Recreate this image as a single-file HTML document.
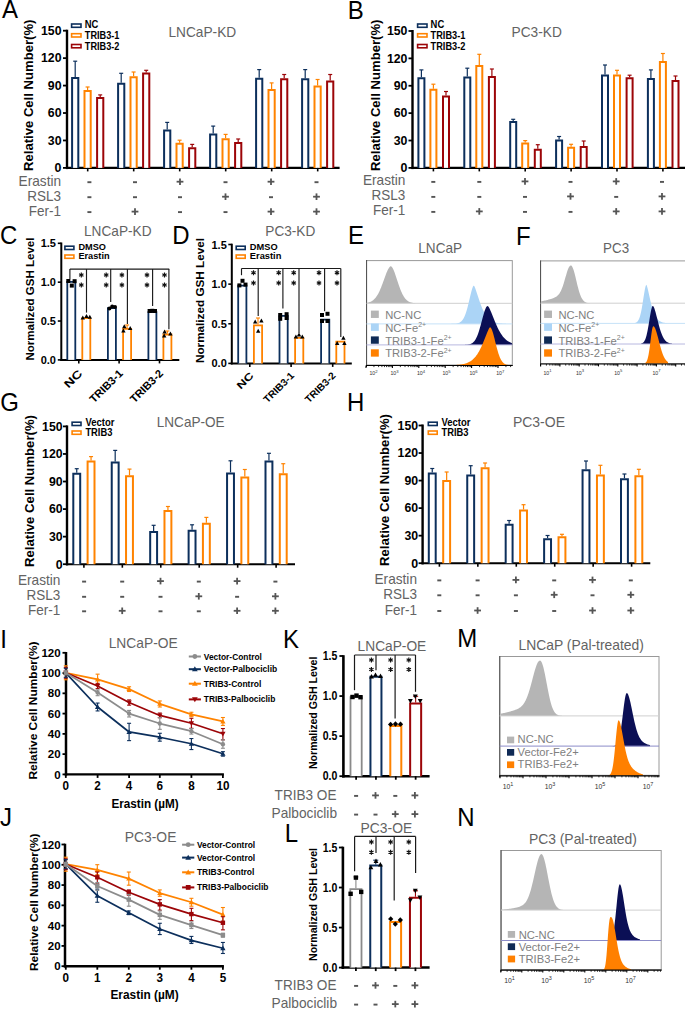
<!DOCTYPE html><html><head><meta charset="utf-8"><style>html,body{margin:0;padding:0;background:#fff;overflow:hidden}svg{display:block}text{font-family:"Liberation Sans",sans-serif}</style></head><body><svg width="685" height="1009" viewBox="0 0 685 1009" font-family="Liberation Sans, sans-serif">
<rect width="685" height="1009" fill="#fff"/>
<line x1="63.00" y1="167.90" x2="67.00" y2="167.90" stroke="#000" stroke-width="1.8"/>
<text x="61.50" y="172.20" font-size="12" font-weight="bold" fill="#000" text-anchor="end" textLength="6.9" lengthAdjust="spacingAndGlyphs">0</text>
<line x1="63.00" y1="140.46" x2="67.00" y2="140.46" stroke="#000" stroke-width="1.8"/>
<text x="61.50" y="144.76" font-size="12" font-weight="bold" fill="#000" text-anchor="end" textLength="13.7" lengthAdjust="spacingAndGlyphs">30</text>
<line x1="63.00" y1="113.02" x2="67.00" y2="113.02" stroke="#000" stroke-width="1.8"/>
<text x="61.50" y="117.32" font-size="12" font-weight="bold" fill="#000" text-anchor="end" textLength="13.7" lengthAdjust="spacingAndGlyphs">60</text>
<line x1="63.00" y1="85.58" x2="67.00" y2="85.58" stroke="#000" stroke-width="1.8"/>
<text x="61.50" y="89.88" font-size="12" font-weight="bold" fill="#000" text-anchor="end" textLength="13.7" lengthAdjust="spacingAndGlyphs">90</text>
<line x1="63.00" y1="58.14" x2="67.00" y2="58.14" stroke="#000" stroke-width="1.8"/>
<text x="61.50" y="62.44" font-size="12" font-weight="bold" fill="#000" text-anchor="end" textLength="20.5" lengthAdjust="spacingAndGlyphs">120</text>
<line x1="63.00" y1="30.70" x2="67.00" y2="30.70" stroke="#000" stroke-width="1.8"/>
<text x="61.50" y="35.00" font-size="12" font-weight="bold" fill="#000" text-anchor="end" textLength="20.5" lengthAdjust="spacingAndGlyphs">150</text>
<line x1="67.00" y1="29.70" x2="67.00" y2="169.10" stroke="#000" stroke-width="2.4"/>
<line x1="66.00" y1="167.90" x2="339.60" y2="167.90" stroke="#000" stroke-width="2.1"/>
<text transform="translate(33.00,171.00) rotate(-90)" x="0" y="0" font-size="12" font-weight="bold" fill="#000" textLength="151.4" lengthAdjust="spacingAndGlyphs">Relative Cell Number(%)</text>
<rect x="71.60" y="24.00" width="9.40" height="3.30" fill="none" stroke="#0c2f5c" stroke-width="1.6"/>
<text x="84.80" y="27.90" font-size="10.2" font-weight="bold" fill="#000" textLength="13.6" lengthAdjust="spacingAndGlyphs">NC</text>
<rect x="71.60" y="33.70" width="9.40" height="3.30" fill="none" stroke="#ff8300" stroke-width="1.6"/>
<text x="84.80" y="38.70" font-size="10.2" font-weight="bold" fill="#000" textLength="34.6" lengthAdjust="spacingAndGlyphs">TRIB3-1</text>
<rect x="71.60" y="44.50" width="9.40" height="3.30" fill="none" stroke="#9c0508" stroke-width="1.6"/>
<text x="84.80" y="49.80" font-size="10.2" font-weight="bold" fill="#000" textLength="34.6" lengthAdjust="spacingAndGlyphs">TRIB3-2</text>
<path d="M72.10,167.90V78.00H78.30V167.90" fill="#fff" stroke="#0c2f5c" stroke-width="2"/>
<line x1="75.20" y1="77.00" x2="75.20" y2="61.20" stroke="#0c2f5c" stroke-width="1.2"/>
<line x1="73.20" y1="61.20" x2="77.20" y2="61.20" stroke="#0c2f5c" stroke-width="1.2"/>
<path d="M84.50,167.90V90.90H90.70V167.90" fill="#fff" stroke="#ff8300" stroke-width="2"/>
<line x1="87.60" y1="89.90" x2="87.60" y2="87.00" stroke="#ff8300" stroke-width="1.2"/>
<line x1="85.60" y1="87.00" x2="89.60" y2="87.00" stroke="#ff8300" stroke-width="1.2"/>
<path d="M97.10,167.90V98.00H103.30V167.90" fill="#fff" stroke="#9c0508" stroke-width="2"/>
<line x1="100.20" y1="97.00" x2="100.20" y2="94.90" stroke="#9c0508" stroke-width="1.2"/>
<line x1="98.20" y1="94.90" x2="102.20" y2="94.90" stroke="#9c0508" stroke-width="1.2"/>
<line x1="87.70" y1="167.90" x2="87.70" y2="171.40" stroke="#000" stroke-width="1.6"/>
<path d="M118.10,167.90V83.80H124.30V167.90" fill="#fff" stroke="#0c2f5c" stroke-width="2"/>
<line x1="121.20" y1="82.80" x2="121.20" y2="73.30" stroke="#0c2f5c" stroke-width="1.2"/>
<line x1="119.20" y1="73.30" x2="123.20" y2="73.30" stroke="#0c2f5c" stroke-width="1.2"/>
<path d="M130.50,167.90V77.20H136.70V167.90" fill="#fff" stroke="#ff8300" stroke-width="2"/>
<line x1="133.60" y1="76.20" x2="133.60" y2="72.00" stroke="#ff8300" stroke-width="1.2"/>
<line x1="131.60" y1="72.00" x2="135.60" y2="72.00" stroke="#ff8300" stroke-width="1.2"/>
<path d="M143.10,167.90V73.40H149.30V167.90" fill="#fff" stroke="#9c0508" stroke-width="2"/>
<line x1="146.20" y1="72.40" x2="146.20" y2="70.30" stroke="#9c0508" stroke-width="1.2"/>
<line x1="144.20" y1="70.30" x2="148.20" y2="70.30" stroke="#9c0508" stroke-width="1.2"/>
<line x1="133.70" y1="167.90" x2="133.70" y2="171.40" stroke="#000" stroke-width="1.6"/>
<path d="M164.10,167.90V130.40H170.30V167.90" fill="#fff" stroke="#0c2f5c" stroke-width="2"/>
<line x1="167.20" y1="129.40" x2="167.20" y2="122.40" stroke="#0c2f5c" stroke-width="1.2"/>
<line x1="165.20" y1="122.40" x2="169.20" y2="122.40" stroke="#0c2f5c" stroke-width="1.2"/>
<path d="M176.50,167.90V143.70H182.70V167.90" fill="#fff" stroke="#ff8300" stroke-width="2"/>
<line x1="179.60" y1="142.70" x2="179.60" y2="140.20" stroke="#ff8300" stroke-width="1.2"/>
<line x1="177.60" y1="140.20" x2="181.60" y2="140.20" stroke="#ff8300" stroke-width="1.2"/>
<path d="M189.10,167.90V148.30H195.30V167.90" fill="#fff" stroke="#9c0508" stroke-width="2"/>
<line x1="192.20" y1="147.30" x2="192.20" y2="144.40" stroke="#9c0508" stroke-width="1.2"/>
<line x1="190.20" y1="144.40" x2="194.20" y2="144.40" stroke="#9c0508" stroke-width="1.2"/>
<line x1="179.70" y1="167.90" x2="179.70" y2="171.40" stroke="#000" stroke-width="1.6"/>
<path d="M210.10,167.90V134.60H216.30V167.90" fill="#fff" stroke="#0c2f5c" stroke-width="2"/>
<line x1="213.20" y1="133.60" x2="213.20" y2="126.10" stroke="#0c2f5c" stroke-width="1.2"/>
<line x1="211.20" y1="126.10" x2="215.20" y2="126.10" stroke="#0c2f5c" stroke-width="1.2"/>
<path d="M222.50,167.90V139.20H228.70V167.90" fill="#fff" stroke="#ff8300" stroke-width="2"/>
<line x1="225.60" y1="138.20" x2="225.60" y2="134.40" stroke="#ff8300" stroke-width="1.2"/>
<line x1="223.60" y1="134.40" x2="227.60" y2="134.40" stroke="#ff8300" stroke-width="1.2"/>
<path d="M235.10,167.90V142.90H241.30V167.90" fill="#fff" stroke="#9c0508" stroke-width="2"/>
<line x1="238.20" y1="141.90" x2="238.20" y2="139.00" stroke="#9c0508" stroke-width="1.2"/>
<line x1="236.20" y1="139.00" x2="240.20" y2="139.00" stroke="#9c0508" stroke-width="1.2"/>
<line x1="225.70" y1="167.90" x2="225.70" y2="171.40" stroke="#000" stroke-width="1.6"/>
<path d="M256.10,167.90V78.70H262.30V167.90" fill="#fff" stroke="#0c2f5c" stroke-width="2"/>
<line x1="259.20" y1="77.70" x2="259.20" y2="69.60" stroke="#0c2f5c" stroke-width="1.2"/>
<line x1="257.20" y1="69.60" x2="261.20" y2="69.60" stroke="#0c2f5c" stroke-width="1.2"/>
<path d="M268.50,167.90V90.00H274.70V167.90" fill="#fff" stroke="#ff8300" stroke-width="2"/>
<line x1="271.60" y1="89.00" x2="271.60" y2="82.90" stroke="#ff8300" stroke-width="1.2"/>
<line x1="269.60" y1="82.90" x2="273.60" y2="82.90" stroke="#ff8300" stroke-width="1.2"/>
<path d="M281.10,167.90V79.30H287.30V167.90" fill="#fff" stroke="#9c0508" stroke-width="2"/>
<line x1="284.20" y1="78.30" x2="284.20" y2="74.50" stroke="#9c0508" stroke-width="1.2"/>
<line x1="282.20" y1="74.50" x2="286.20" y2="74.50" stroke="#9c0508" stroke-width="1.2"/>
<line x1="271.70" y1="167.90" x2="271.70" y2="171.40" stroke="#000" stroke-width="1.6"/>
<path d="M302.10,167.90V79.30H308.30V167.90" fill="#fff" stroke="#0c2f5c" stroke-width="2"/>
<line x1="305.20" y1="78.30" x2="305.20" y2="69.60" stroke="#0c2f5c" stroke-width="1.2"/>
<line x1="303.20" y1="69.60" x2="307.20" y2="69.60" stroke="#0c2f5c" stroke-width="1.2"/>
<path d="M314.50,167.90V86.40H320.70V167.90" fill="#fff" stroke="#ff8300" stroke-width="2"/>
<line x1="317.60" y1="85.40" x2="317.60" y2="79.50" stroke="#ff8300" stroke-width="1.2"/>
<line x1="315.60" y1="79.50" x2="319.60" y2="79.50" stroke="#ff8300" stroke-width="1.2"/>
<path d="M327.10,167.90V81.60H333.30V167.90" fill="#fff" stroke="#9c0508" stroke-width="2"/>
<line x1="330.20" y1="80.60" x2="330.20" y2="74.50" stroke="#9c0508" stroke-width="1.2"/>
<line x1="328.20" y1="74.50" x2="332.20" y2="74.50" stroke="#9c0508" stroke-width="1.2"/>
<line x1="317.70" y1="167.90" x2="317.70" y2="171.40" stroke="#000" stroke-width="1.6"/>
<text x="168.40" y="36.90" font-size="14.6" fill="#636363" textLength="67.8" lengthAdjust="spacingAndGlyphs">LNCaP-KD</text>
<text x="61.10" y="185.70" font-size="14.5" fill="#636363" text-anchor="end" textLength="42.5" lengthAdjust="spacingAndGlyphs">Erastin</text>
<line x1="87.40" y1="182.20" x2="91.40" y2="182.20" stroke="#555555" stroke-width="1.9"/>
<line x1="133.00" y1="182.20" x2="137.00" y2="182.20" stroke="#555555" stroke-width="1.9"/>
<line x1="176.60" y1="181.70" x2="183.40" y2="181.70" stroke="#555555" stroke-width="1.8"/>
<line x1="180.00" y1="178.40" x2="180.00" y2="185.00" stroke="#555555" stroke-width="1.8"/>
<line x1="223.50" y1="182.20" x2="227.50" y2="182.20" stroke="#555555" stroke-width="1.9"/>
<line x1="267.60" y1="181.70" x2="274.40" y2="181.70" stroke="#555555" stroke-width="1.8"/>
<line x1="271.00" y1="178.40" x2="271.00" y2="185.00" stroke="#555555" stroke-width="1.8"/>
<line x1="314.50" y1="182.20" x2="318.50" y2="182.20" stroke="#555555" stroke-width="1.9"/>
<text x="61.10" y="200.70" font-size="14.5" fill="#636363" text-anchor="end" textLength="33.8" lengthAdjust="spacingAndGlyphs">RSL3</text>
<line x1="87.40" y1="197.20" x2="91.40" y2="197.20" stroke="#555555" stroke-width="1.9"/>
<line x1="133.00" y1="197.20" x2="137.00" y2="197.20" stroke="#555555" stroke-width="1.9"/>
<line x1="178.00" y1="197.20" x2="182.00" y2="197.20" stroke="#555555" stroke-width="1.9"/>
<line x1="222.10" y1="196.70" x2="228.90" y2="196.70" stroke="#555555" stroke-width="1.8"/>
<line x1="225.50" y1="193.40" x2="225.50" y2="200.00" stroke="#555555" stroke-width="1.8"/>
<line x1="269.00" y1="197.20" x2="273.00" y2="197.20" stroke="#555555" stroke-width="1.9"/>
<line x1="313.10" y1="196.70" x2="319.90" y2="196.70" stroke="#555555" stroke-width="1.8"/>
<line x1="316.50" y1="193.40" x2="316.50" y2="200.00" stroke="#555555" stroke-width="1.8"/>
<text x="61.10" y="215.60" font-size="14.5" fill="#636363" text-anchor="end" textLength="32.3" lengthAdjust="spacingAndGlyphs">Fer-1</text>
<line x1="87.40" y1="212.10" x2="91.40" y2="212.10" stroke="#555555" stroke-width="1.9"/>
<line x1="131.60" y1="211.60" x2="138.40" y2="211.60" stroke="#555555" stroke-width="1.8"/>
<line x1="135.00" y1="208.30" x2="135.00" y2="214.90" stroke="#555555" stroke-width="1.8"/>
<line x1="178.00" y1="212.10" x2="182.00" y2="212.10" stroke="#555555" stroke-width="1.9"/>
<line x1="223.50" y1="212.10" x2="227.50" y2="212.10" stroke="#555555" stroke-width="1.9"/>
<line x1="267.60" y1="211.60" x2="274.40" y2="211.60" stroke="#555555" stroke-width="1.8"/>
<line x1="271.00" y1="208.30" x2="271.00" y2="214.90" stroke="#555555" stroke-width="1.8"/>
<line x1="313.10" y1="211.60" x2="319.90" y2="211.60" stroke="#555555" stroke-width="1.8"/>
<line x1="316.50" y1="208.30" x2="316.50" y2="214.90" stroke="#555555" stroke-width="1.8"/>
<line x1="408.50" y1="167.90" x2="412.50" y2="167.90" stroke="#000" stroke-width="1.8"/>
<text x="407.40" y="172.20" font-size="12" font-weight="bold" fill="#000" text-anchor="end" textLength="6.9" lengthAdjust="spacingAndGlyphs">0</text>
<line x1="408.50" y1="140.52" x2="412.50" y2="140.52" stroke="#000" stroke-width="1.8"/>
<text x="407.40" y="144.82" font-size="12" font-weight="bold" fill="#000" text-anchor="end" textLength="13.7" lengthAdjust="spacingAndGlyphs">30</text>
<line x1="408.50" y1="113.14" x2="412.50" y2="113.14" stroke="#000" stroke-width="1.8"/>
<text x="407.40" y="117.44" font-size="12" font-weight="bold" fill="#000" text-anchor="end" textLength="13.7" lengthAdjust="spacingAndGlyphs">60</text>
<line x1="408.50" y1="85.76" x2="412.50" y2="85.76" stroke="#000" stroke-width="1.8"/>
<text x="407.40" y="90.06" font-size="12" font-weight="bold" fill="#000" text-anchor="end" textLength="13.7" lengthAdjust="spacingAndGlyphs">90</text>
<line x1="408.50" y1="58.38" x2="412.50" y2="58.38" stroke="#000" stroke-width="1.8"/>
<text x="407.40" y="62.68" font-size="12" font-weight="bold" fill="#000" text-anchor="end" textLength="20.5" lengthAdjust="spacingAndGlyphs">120</text>
<line x1="408.50" y1="31.00" x2="412.50" y2="31.00" stroke="#000" stroke-width="1.8"/>
<text x="407.40" y="35.30" font-size="12" font-weight="bold" fill="#000" text-anchor="end" textLength="20.5" lengthAdjust="spacingAndGlyphs">150</text>
<line x1="412.50" y1="30.00" x2="412.50" y2="169.10" stroke="#000" stroke-width="2.4"/>
<line x1="411.50" y1="167.90" x2="686.00" y2="167.90" stroke="#000" stroke-width="2.1"/>
<text transform="translate(380.00,171.00) rotate(-90)" x="0" y="0" font-size="12" font-weight="bold" fill="#000" textLength="151.4" lengthAdjust="spacingAndGlyphs">Relative Cell Number(%)</text>
<rect x="417.60" y="24.00" width="9.40" height="3.30" fill="none" stroke="#0c2f5c" stroke-width="1.6"/>
<text x="430.60" y="27.90" font-size="10.2" font-weight="bold" fill="#000" textLength="13.6" lengthAdjust="spacingAndGlyphs">NC</text>
<rect x="417.60" y="33.70" width="9.40" height="3.30" fill="none" stroke="#ff8300" stroke-width="1.6"/>
<text x="430.60" y="38.70" font-size="10.2" font-weight="bold" fill="#000" textLength="34.8" lengthAdjust="spacingAndGlyphs">TRIB3-1</text>
<rect x="417.60" y="44.50" width="9.40" height="3.30" fill="none" stroke="#9c0508" stroke-width="1.6"/>
<text x="430.60" y="49.80" font-size="10.2" font-weight="bold" fill="#000" textLength="34.8" lengthAdjust="spacingAndGlyphs">TRIB3-2</text>
<path d="M418.40,167.90V78.20H424.40V167.90" fill="#fff" stroke="#0c2f5c" stroke-width="2"/>
<line x1="421.40" y1="77.20" x2="421.40" y2="69.90" stroke="#0c2f5c" stroke-width="1.2"/>
<line x1="419.40" y1="69.90" x2="423.40" y2="69.90" stroke="#0c2f5c" stroke-width="1.2"/>
<path d="M430.40,167.90V89.70H436.40V167.90" fill="#fff" stroke="#ff8300" stroke-width="2"/>
<line x1="433.40" y1="88.70" x2="433.40" y2="84.20" stroke="#ff8300" stroke-width="1.2"/>
<line x1="431.40" y1="84.20" x2="435.40" y2="84.20" stroke="#ff8300" stroke-width="1.2"/>
<path d="M443.00,167.90V96.60H449.00V167.90" fill="#fff" stroke="#9c0508" stroke-width="2"/>
<line x1="446.00" y1="95.60" x2="446.00" y2="91.50" stroke="#9c0508" stroke-width="1.2"/>
<line x1="444.00" y1="91.50" x2="448.00" y2="91.50" stroke="#9c0508" stroke-width="1.2"/>
<line x1="433.40" y1="167.90" x2="433.40" y2="171.40" stroke="#000" stroke-width="1.6"/>
<path d="M464.30,167.90V77.40H470.30V167.90" fill="#fff" stroke="#0c2f5c" stroke-width="2"/>
<line x1="467.30" y1="76.40" x2="467.30" y2="68.20" stroke="#0c2f5c" stroke-width="1.2"/>
<line x1="465.30" y1="68.20" x2="469.30" y2="68.20" stroke="#0c2f5c" stroke-width="1.2"/>
<path d="M476.30,167.90V66.00H482.30V167.90" fill="#fff" stroke="#ff8300" stroke-width="2"/>
<line x1="479.30" y1="65.00" x2="479.30" y2="54.30" stroke="#ff8300" stroke-width="1.2"/>
<line x1="477.30" y1="54.30" x2="481.30" y2="54.30" stroke="#ff8300" stroke-width="1.2"/>
<path d="M488.90,167.90V77.00H494.90V167.90" fill="#fff" stroke="#9c0508" stroke-width="2"/>
<line x1="491.90" y1="76.00" x2="491.90" y2="69.00" stroke="#9c0508" stroke-width="1.2"/>
<line x1="489.90" y1="69.00" x2="493.90" y2="69.00" stroke="#9c0508" stroke-width="1.2"/>
<line x1="479.30" y1="167.90" x2="479.30" y2="171.40" stroke="#000" stroke-width="1.6"/>
<path d="M510.20,167.90V122.00H516.20V167.90" fill="#fff" stroke="#0c2f5c" stroke-width="2"/>
<line x1="513.20" y1="121.00" x2="513.20" y2="119.30" stroke="#0c2f5c" stroke-width="1.2"/>
<line x1="511.20" y1="119.30" x2="515.20" y2="119.30" stroke="#0c2f5c" stroke-width="1.2"/>
<path d="M522.20,167.90V143.60H528.20V167.90" fill="#fff" stroke="#ff8300" stroke-width="2"/>
<line x1="525.20" y1="142.60" x2="525.20" y2="140.60" stroke="#ff8300" stroke-width="1.2"/>
<line x1="523.20" y1="140.60" x2="527.20" y2="140.60" stroke="#ff8300" stroke-width="1.2"/>
<path d="M534.80,167.90V149.80H540.80V167.90" fill="#fff" stroke="#9c0508" stroke-width="2"/>
<line x1="537.80" y1="148.80" x2="537.80" y2="144.70" stroke="#9c0508" stroke-width="1.2"/>
<line x1="535.80" y1="144.70" x2="539.80" y2="144.70" stroke="#9c0508" stroke-width="1.2"/>
<line x1="525.20" y1="167.90" x2="525.20" y2="171.40" stroke="#000" stroke-width="1.6"/>
<path d="M556.10,167.90V140.40H562.10V167.90" fill="#fff" stroke="#0c2f5c" stroke-width="2"/>
<line x1="559.10" y1="139.40" x2="559.10" y2="136.50" stroke="#0c2f5c" stroke-width="1.2"/>
<line x1="557.10" y1="136.50" x2="561.10" y2="136.50" stroke="#0c2f5c" stroke-width="1.2"/>
<path d="M568.10,167.90V147.70H574.10V167.90" fill="#fff" stroke="#ff8300" stroke-width="2"/>
<line x1="571.10" y1="146.70" x2="571.10" y2="144.30" stroke="#ff8300" stroke-width="1.2"/>
<line x1="569.10" y1="144.30" x2="573.10" y2="144.30" stroke="#ff8300" stroke-width="1.2"/>
<path d="M580.70,167.90V146.90H586.70V167.90" fill="#fff" stroke="#9c0508" stroke-width="2"/>
<line x1="583.70" y1="145.90" x2="583.70" y2="141.00" stroke="#9c0508" stroke-width="1.2"/>
<line x1="581.70" y1="141.00" x2="585.70" y2="141.00" stroke="#9c0508" stroke-width="1.2"/>
<line x1="571.10" y1="167.90" x2="571.10" y2="171.40" stroke="#000" stroke-width="1.6"/>
<path d="M602.00,167.90V75.40H608.00V167.90" fill="#fff" stroke="#0c2f5c" stroke-width="2"/>
<line x1="605.00" y1="74.40" x2="605.00" y2="65.00" stroke="#0c2f5c" stroke-width="1.2"/>
<line x1="603.00" y1="65.00" x2="607.00" y2="65.00" stroke="#0c2f5c" stroke-width="1.2"/>
<path d="M614.00,167.90V75.40H620.00V167.90" fill="#fff" stroke="#ff8300" stroke-width="2"/>
<line x1="617.00" y1="74.40" x2="617.00" y2="70.30" stroke="#ff8300" stroke-width="1.2"/>
<line x1="615.00" y1="70.30" x2="619.00" y2="70.30" stroke="#ff8300" stroke-width="1.2"/>
<path d="M626.60,167.90V78.20H632.60V167.90" fill="#fff" stroke="#9c0508" stroke-width="2"/>
<line x1="629.60" y1="77.20" x2="629.60" y2="75.20" stroke="#9c0508" stroke-width="1.2"/>
<line x1="627.60" y1="75.20" x2="631.60" y2="75.20" stroke="#9c0508" stroke-width="1.2"/>
<line x1="617.00" y1="167.90" x2="617.00" y2="171.40" stroke="#000" stroke-width="1.6"/>
<path d="M647.90,167.90V79.00H653.90V167.90" fill="#fff" stroke="#0c2f5c" stroke-width="2"/>
<line x1="650.90" y1="78.00" x2="650.90" y2="69.90" stroke="#0c2f5c" stroke-width="1.2"/>
<line x1="648.90" y1="69.90" x2="652.90" y2="69.90" stroke="#0c2f5c" stroke-width="1.2"/>
<path d="M659.90,167.90V61.90H665.90V167.90" fill="#fff" stroke="#ff8300" stroke-width="2"/>
<line x1="662.90" y1="60.90" x2="662.90" y2="53.50" stroke="#ff8300" stroke-width="1.2"/>
<line x1="660.90" y1="53.50" x2="664.90" y2="53.50" stroke="#ff8300" stroke-width="1.2"/>
<path d="M672.50,167.90V81.10H678.50V167.90" fill="#fff" stroke="#9c0508" stroke-width="2"/>
<line x1="675.50" y1="80.10" x2="675.50" y2="76.00" stroke="#9c0508" stroke-width="1.2"/>
<line x1="673.50" y1="76.00" x2="677.50" y2="76.00" stroke="#9c0508" stroke-width="1.2"/>
<line x1="662.90" y1="167.90" x2="662.90" y2="171.40" stroke="#000" stroke-width="1.6"/>
<text x="511.50" y="36.90" font-size="14.6" fill="#636363" textLength="50.3" lengthAdjust="spacingAndGlyphs">PC3-KD</text>
<text x="405.40" y="185.40" font-size="14.5" fill="#636363" text-anchor="end" textLength="42.5" lengthAdjust="spacingAndGlyphs">Erastin</text>
<line x1="431.30" y1="181.90" x2="435.30" y2="181.90" stroke="#555555" stroke-width="1.9"/>
<line x1="477.30" y1="181.90" x2="481.30" y2="181.90" stroke="#555555" stroke-width="1.9"/>
<line x1="521.60" y1="181.40" x2="528.40" y2="181.40" stroke="#555555" stroke-width="1.8"/>
<line x1="525.00" y1="178.10" x2="525.00" y2="184.70" stroke="#555555" stroke-width="1.8"/>
<line x1="568.50" y1="181.90" x2="572.50" y2="181.90" stroke="#555555" stroke-width="1.9"/>
<line x1="612.80" y1="181.40" x2="619.60" y2="181.40" stroke="#555555" stroke-width="1.8"/>
<line x1="616.20" y1="178.10" x2="616.20" y2="184.70" stroke="#555555" stroke-width="1.8"/>
<line x1="660.00" y1="181.90" x2="664.00" y2="181.90" stroke="#555555" stroke-width="1.9"/>
<text x="405.40" y="200.40" font-size="14.5" fill="#636363" text-anchor="end" textLength="33.8" lengthAdjust="spacingAndGlyphs">RSL3</text>
<line x1="431.30" y1="196.90" x2="435.30" y2="196.90" stroke="#555555" stroke-width="1.9"/>
<line x1="477.30" y1="196.90" x2="481.30" y2="196.90" stroke="#555555" stroke-width="1.9"/>
<line x1="523.00" y1="196.90" x2="527.00" y2="196.90" stroke="#555555" stroke-width="1.9"/>
<line x1="567.10" y1="196.40" x2="573.90" y2="196.40" stroke="#555555" stroke-width="1.8"/>
<line x1="570.50" y1="193.10" x2="570.50" y2="199.70" stroke="#555555" stroke-width="1.8"/>
<line x1="614.20" y1="196.90" x2="618.20" y2="196.90" stroke="#555555" stroke-width="1.9"/>
<line x1="658.60" y1="196.40" x2="665.40" y2="196.40" stroke="#555555" stroke-width="1.8"/>
<line x1="662.00" y1="193.10" x2="662.00" y2="199.70" stroke="#555555" stroke-width="1.8"/>
<text x="405.40" y="215.40" font-size="14.5" fill="#636363" text-anchor="end" textLength="32.3" lengthAdjust="spacingAndGlyphs">Fer-1</text>
<line x1="431.30" y1="211.90" x2="435.30" y2="211.90" stroke="#555555" stroke-width="1.9"/>
<line x1="475.90" y1="211.40" x2="482.70" y2="211.40" stroke="#555555" stroke-width="1.8"/>
<line x1="479.30" y1="208.10" x2="479.30" y2="214.70" stroke="#555555" stroke-width="1.8"/>
<line x1="523.00" y1="211.90" x2="527.00" y2="211.90" stroke="#555555" stroke-width="1.9"/>
<line x1="568.50" y1="211.90" x2="572.50" y2="211.90" stroke="#555555" stroke-width="1.9"/>
<line x1="612.80" y1="211.40" x2="619.60" y2="211.40" stroke="#555555" stroke-width="1.8"/>
<line x1="616.20" y1="208.10" x2="616.20" y2="214.70" stroke="#555555" stroke-width="1.8"/>
<line x1="658.60" y1="211.40" x2="665.40" y2="211.40" stroke="#555555" stroke-width="1.8"/>
<line x1="662.00" y1="208.10" x2="662.00" y2="214.70" stroke="#555555" stroke-width="1.8"/>
<line x1="63.00" y1="564.20" x2="67.00" y2="564.20" stroke="#000" stroke-width="1.8"/>
<text x="62.60" y="568.50" font-size="12" font-weight="bold" fill="#000" text-anchor="end" textLength="6.9" lengthAdjust="spacingAndGlyphs">0</text>
<line x1="63.00" y1="536.64" x2="67.00" y2="536.64" stroke="#000" stroke-width="1.8"/>
<text x="62.60" y="540.94" font-size="12" font-weight="bold" fill="#000" text-anchor="end" textLength="13.7" lengthAdjust="spacingAndGlyphs">30</text>
<line x1="63.00" y1="509.08" x2="67.00" y2="509.08" stroke="#000" stroke-width="1.8"/>
<text x="62.60" y="513.38" font-size="12" font-weight="bold" fill="#000" text-anchor="end" textLength="13.7" lengthAdjust="spacingAndGlyphs">60</text>
<line x1="63.00" y1="481.52" x2="67.00" y2="481.52" stroke="#000" stroke-width="1.8"/>
<text x="62.60" y="485.82" font-size="12" font-weight="bold" fill="#000" text-anchor="end" textLength="13.7" lengthAdjust="spacingAndGlyphs">90</text>
<line x1="63.00" y1="453.96" x2="67.00" y2="453.96" stroke="#000" stroke-width="1.8"/>
<text x="62.60" y="458.26" font-size="12" font-weight="bold" fill="#000" text-anchor="end" textLength="20.5" lengthAdjust="spacingAndGlyphs">120</text>
<line x1="63.00" y1="426.40" x2="67.00" y2="426.40" stroke="#000" stroke-width="1.8"/>
<text x="62.60" y="430.70" font-size="12" font-weight="bold" fill="#000" text-anchor="end" textLength="20.5" lengthAdjust="spacingAndGlyphs">150</text>
<line x1="67.00" y1="425.40" x2="67.00" y2="565.40" stroke="#000" stroke-width="2.4"/>
<line x1="66.00" y1="564.20" x2="295.00" y2="564.20" stroke="#000" stroke-width="2.1"/>
<text transform="translate(34.20,567.00) rotate(-90)" x="0" y="0" font-size="12" font-weight="bold" fill="#000" textLength="152.0" lengthAdjust="spacingAndGlyphs">Relative Cell Number(%)</text>
<rect x="72.10" y="422.20" width="8.90" height="3.30" fill="none" stroke="#0c2f5c" stroke-width="1.6"/>
<text x="85.40" y="425.70" font-size="10.4" font-weight="bold" fill="#000" textLength="29.0" lengthAdjust="spacingAndGlyphs">Vector</text>
<rect x="72.10" y="431.00" width="8.90" height="3.30" fill="none" stroke="#ff8300" stroke-width="1.6"/>
<text x="85.40" y="435.70" font-size="10.4" font-weight="bold" fill="#000" textLength="27.0" lengthAdjust="spacingAndGlyphs">TRIB3</text>
<path d="M73.30,564.20V473.80H80.20V564.20" fill="#fff" stroke="#0c2f5c" stroke-width="2"/>
<line x1="76.75" y1="472.80" x2="76.75" y2="468.70" stroke="#0c2f5c" stroke-width="1.2"/>
<line x1="74.75" y1="468.70" x2="78.75" y2="468.70" stroke="#0c2f5c" stroke-width="1.2"/>
<path d="M87.60,564.20V461.40H94.50V564.20" fill="#fff" stroke="#ff8300" stroke-width="2"/>
<line x1="91.05" y1="460.40" x2="91.05" y2="456.60" stroke="#ff8300" stroke-width="1.2"/>
<line x1="89.05" y1="456.60" x2="93.05" y2="456.60" stroke="#ff8300" stroke-width="1.2"/>
<line x1="83.90" y1="564.20" x2="83.90" y2="567.70" stroke="#000" stroke-width="1.6"/>
<path d="M111.74,564.20V462.60H118.64V564.20" fill="#fff" stroke="#0c2f5c" stroke-width="2"/>
<line x1="115.19" y1="461.60" x2="115.19" y2="450.40" stroke="#0c2f5c" stroke-width="1.2"/>
<line x1="113.19" y1="450.40" x2="117.19" y2="450.40" stroke="#0c2f5c" stroke-width="1.2"/>
<path d="M126.04,564.20V476.30H132.94V564.20" fill="#fff" stroke="#ff8300" stroke-width="2"/>
<line x1="129.49" y1="475.30" x2="129.49" y2="469.10" stroke="#ff8300" stroke-width="1.2"/>
<line x1="127.49" y1="469.10" x2="131.49" y2="469.10" stroke="#ff8300" stroke-width="1.2"/>
<line x1="122.34" y1="564.20" x2="122.34" y2="567.70" stroke="#000" stroke-width="1.6"/>
<path d="M150.18,564.20V532.10H157.08V564.20" fill="#fff" stroke="#0c2f5c" stroke-width="2"/>
<line x1="153.63" y1="531.10" x2="153.63" y2="525.30" stroke="#0c2f5c" stroke-width="1.2"/>
<line x1="151.63" y1="525.30" x2="155.63" y2="525.30" stroke="#0c2f5c" stroke-width="1.2"/>
<path d="M164.48,564.20V510.90H171.38V564.20" fill="#fff" stroke="#ff8300" stroke-width="2"/>
<line x1="167.93" y1="509.90" x2="167.93" y2="506.50" stroke="#ff8300" stroke-width="1.2"/>
<line x1="165.93" y1="506.50" x2="169.93" y2="506.50" stroke="#ff8300" stroke-width="1.2"/>
<line x1="160.78" y1="564.20" x2="160.78" y2="567.70" stroke="#000" stroke-width="1.6"/>
<path d="M188.62,564.20V530.80H195.52V564.20" fill="#fff" stroke="#0c2f5c" stroke-width="2"/>
<line x1="192.07" y1="529.80" x2="192.07" y2="524.80" stroke="#0c2f5c" stroke-width="1.2"/>
<line x1="190.07" y1="524.80" x2="194.07" y2="524.80" stroke="#0c2f5c" stroke-width="1.2"/>
<path d="M202.92,564.20V523.80H209.82V564.20" fill="#fff" stroke="#ff8300" stroke-width="2"/>
<line x1="206.37" y1="522.80" x2="206.37" y2="517.40" stroke="#ff8300" stroke-width="1.2"/>
<line x1="204.37" y1="517.40" x2="208.37" y2="517.40" stroke="#ff8300" stroke-width="1.2"/>
<line x1="199.22" y1="564.20" x2="199.22" y2="567.70" stroke="#000" stroke-width="1.6"/>
<path d="M227.06,564.20V473.40H233.96V564.20" fill="#fff" stroke="#0c2f5c" stroke-width="2"/>
<line x1="230.51" y1="472.40" x2="230.51" y2="460.80" stroke="#0c2f5c" stroke-width="1.2"/>
<line x1="228.51" y1="460.80" x2="232.51" y2="460.80" stroke="#0c2f5c" stroke-width="1.2"/>
<path d="M241.36,564.20V477.60H248.26V564.20" fill="#fff" stroke="#ff8300" stroke-width="2"/>
<line x1="244.81" y1="476.60" x2="244.81" y2="469.50" stroke="#ff8300" stroke-width="1.2"/>
<line x1="242.81" y1="469.50" x2="246.81" y2="469.50" stroke="#ff8300" stroke-width="1.2"/>
<line x1="237.66" y1="564.20" x2="237.66" y2="567.70" stroke="#000" stroke-width="1.6"/>
<path d="M265.50,564.20V461.40H272.40V564.20" fill="#fff" stroke="#0c2f5c" stroke-width="2"/>
<line x1="268.95" y1="460.40" x2="268.95" y2="453.30" stroke="#0c2f5c" stroke-width="1.2"/>
<line x1="266.95" y1="453.30" x2="270.95" y2="453.30" stroke="#0c2f5c" stroke-width="1.2"/>
<path d="M279.80,564.20V474.30H286.70V564.20" fill="#fff" stroke="#ff8300" stroke-width="2"/>
<line x1="283.25" y1="473.30" x2="283.25" y2="463.70" stroke="#ff8300" stroke-width="1.2"/>
<line x1="281.25" y1="463.70" x2="285.25" y2="463.70" stroke="#ff8300" stroke-width="1.2"/>
<line x1="276.10" y1="564.20" x2="276.10" y2="567.70" stroke="#000" stroke-width="1.6"/>
<text x="156.80" y="427.00" font-size="14.6" fill="#636363" textLength="67.8" lengthAdjust="spacingAndGlyphs">LNCaP-OE</text>
<text x="60.40" y="585.10" font-size="14.5" fill="#636363" text-anchor="end" textLength="42.5" lengthAdjust="spacingAndGlyphs">Erastin</text>
<line x1="82.10" y1="581.60" x2="86.10" y2="581.60" stroke="#555555" stroke-width="1.9"/>
<line x1="120.20" y1="581.60" x2="124.20" y2="581.60" stroke="#555555" stroke-width="1.9"/>
<line x1="157.10" y1="581.10" x2="163.90" y2="581.10" stroke="#555555" stroke-width="1.8"/>
<line x1="160.50" y1="577.80" x2="160.50" y2="584.40" stroke="#555555" stroke-width="1.8"/>
<line x1="196.80" y1="581.60" x2="200.80" y2="581.60" stroke="#555555" stroke-width="1.9"/>
<line x1="233.70" y1="581.10" x2="240.50" y2="581.10" stroke="#555555" stroke-width="1.8"/>
<line x1="237.10" y1="577.80" x2="237.10" y2="584.40" stroke="#555555" stroke-width="1.8"/>
<line x1="273.40" y1="581.60" x2="277.40" y2="581.60" stroke="#555555" stroke-width="1.9"/>
<text x="60.40" y="600.30" font-size="14.5" fill="#636363" text-anchor="end" textLength="33.8" lengthAdjust="spacingAndGlyphs">RSL3</text>
<line x1="82.10" y1="596.80" x2="86.10" y2="596.80" stroke="#555555" stroke-width="1.9"/>
<line x1="120.20" y1="596.80" x2="124.20" y2="596.80" stroke="#555555" stroke-width="1.9"/>
<line x1="158.50" y1="596.80" x2="162.50" y2="596.80" stroke="#555555" stroke-width="1.9"/>
<line x1="195.40" y1="596.30" x2="202.20" y2="596.30" stroke="#555555" stroke-width="1.8"/>
<line x1="198.80" y1="593.00" x2="198.80" y2="599.60" stroke="#555555" stroke-width="1.8"/>
<line x1="235.10" y1="596.80" x2="239.10" y2="596.80" stroke="#555555" stroke-width="1.9"/>
<line x1="272.00" y1="596.30" x2="278.80" y2="596.30" stroke="#555555" stroke-width="1.8"/>
<line x1="275.40" y1="593.00" x2="275.40" y2="599.60" stroke="#555555" stroke-width="1.8"/>
<text x="60.40" y="614.80" font-size="14.5" fill="#636363" text-anchor="end" textLength="32.3" lengthAdjust="spacingAndGlyphs">Fer-1</text>
<line x1="82.10" y1="611.30" x2="86.10" y2="611.30" stroke="#555555" stroke-width="1.9"/>
<line x1="118.80" y1="610.80" x2="125.60" y2="610.80" stroke="#555555" stroke-width="1.8"/>
<line x1="122.20" y1="607.50" x2="122.20" y2="614.10" stroke="#555555" stroke-width="1.8"/>
<line x1="158.50" y1="611.30" x2="162.50" y2="611.30" stroke="#555555" stroke-width="1.9"/>
<line x1="196.80" y1="611.30" x2="200.80" y2="611.30" stroke="#555555" stroke-width="1.9"/>
<line x1="233.70" y1="610.80" x2="240.50" y2="610.80" stroke="#555555" stroke-width="1.8"/>
<line x1="237.10" y1="607.50" x2="237.10" y2="614.10" stroke="#555555" stroke-width="1.8"/>
<line x1="272.00" y1="610.80" x2="278.80" y2="610.80" stroke="#555555" stroke-width="1.8"/>
<line x1="275.40" y1="607.50" x2="275.40" y2="614.10" stroke="#555555" stroke-width="1.8"/>
<line x1="418.60" y1="563.20" x2="422.60" y2="563.20" stroke="#000" stroke-width="1.8"/>
<text x="418.10" y="567.50" font-size="12" font-weight="bold" fill="#000" text-anchor="end" textLength="6.9" lengthAdjust="spacingAndGlyphs">0</text>
<line x1="418.60" y1="535.66" x2="422.60" y2="535.66" stroke="#000" stroke-width="1.8"/>
<text x="418.10" y="539.96" font-size="12" font-weight="bold" fill="#000" text-anchor="end" textLength="13.7" lengthAdjust="spacingAndGlyphs">30</text>
<line x1="418.60" y1="508.12" x2="422.60" y2="508.12" stroke="#000" stroke-width="1.8"/>
<text x="418.10" y="512.42" font-size="12" font-weight="bold" fill="#000" text-anchor="end" textLength="13.7" lengthAdjust="spacingAndGlyphs">60</text>
<line x1="418.60" y1="480.58" x2="422.60" y2="480.58" stroke="#000" stroke-width="1.8"/>
<text x="418.10" y="484.88" font-size="12" font-weight="bold" fill="#000" text-anchor="end" textLength="13.7" lengthAdjust="spacingAndGlyphs">90</text>
<line x1="418.60" y1="453.04" x2="422.60" y2="453.04" stroke="#000" stroke-width="1.8"/>
<text x="418.10" y="457.34" font-size="12" font-weight="bold" fill="#000" text-anchor="end" textLength="20.5" lengthAdjust="spacingAndGlyphs">120</text>
<line x1="418.60" y1="425.50" x2="422.60" y2="425.50" stroke="#000" stroke-width="1.8"/>
<text x="418.10" y="429.80" font-size="12" font-weight="bold" fill="#000" text-anchor="end" textLength="20.5" lengthAdjust="spacingAndGlyphs">150</text>
<line x1="422.60" y1="424.50" x2="422.60" y2="564.40" stroke="#000" stroke-width="2.4"/>
<line x1="421.60" y1="563.20" x2="650.30" y2="563.20" stroke="#000" stroke-width="2.1"/>
<text transform="translate(388.80,566.00) rotate(-90)" x="0" y="0" font-size="12" font-weight="bold" fill="#000" textLength="152.0" lengthAdjust="spacingAndGlyphs">Relative Cell Number(%)</text>
<rect x="428.30" y="422.20" width="8.90" height="3.30" fill="none" stroke="#0c2f5c" stroke-width="1.6"/>
<text x="441.50" y="425.70" font-size="10.4" font-weight="bold" fill="#000" textLength="29.0" lengthAdjust="spacingAndGlyphs">Vector</text>
<rect x="428.30" y="431.00" width="8.90" height="3.30" fill="none" stroke="#ff8300" stroke-width="1.6"/>
<text x="441.50" y="435.70" font-size="10.4" font-weight="bold" fill="#000" textLength="27.0" lengthAdjust="spacingAndGlyphs">TRIB3</text>
<path d="M428.80,563.20V473.40H435.70V563.20" fill="#fff" stroke="#0c2f5c" stroke-width="2"/>
<line x1="432.25" y1="472.40" x2="432.25" y2="468.50" stroke="#0c2f5c" stroke-width="1.2"/>
<line x1="430.25" y1="468.50" x2="434.25" y2="468.50" stroke="#0c2f5c" stroke-width="1.2"/>
<path d="M443.20,563.20V480.90H450.10V563.20" fill="#fff" stroke="#ff8300" stroke-width="2"/>
<line x1="446.65" y1="479.90" x2="446.65" y2="472.00" stroke="#ff8300" stroke-width="1.2"/>
<line x1="444.65" y1="472.00" x2="448.65" y2="472.00" stroke="#ff8300" stroke-width="1.2"/>
<line x1="439.40" y1="563.20" x2="439.40" y2="566.70" stroke="#000" stroke-width="1.6"/>
<path d="M467.24,563.20V475.40H474.14V563.20" fill="#fff" stroke="#0c2f5c" stroke-width="2"/>
<line x1="470.69" y1="474.40" x2="470.69" y2="465.70" stroke="#0c2f5c" stroke-width="1.2"/>
<line x1="468.69" y1="465.70" x2="472.69" y2="465.70" stroke="#0c2f5c" stroke-width="1.2"/>
<path d="M481.64,563.20V468.30H488.54V563.20" fill="#fff" stroke="#ff8300" stroke-width="2"/>
<line x1="485.09" y1="467.30" x2="485.09" y2="463.00" stroke="#ff8300" stroke-width="1.2"/>
<line x1="483.09" y1="463.00" x2="487.09" y2="463.00" stroke="#ff8300" stroke-width="1.2"/>
<line x1="477.84" y1="563.20" x2="477.84" y2="566.70" stroke="#000" stroke-width="1.6"/>
<path d="M505.68,563.20V524.70H512.58V563.20" fill="#fff" stroke="#0c2f5c" stroke-width="2"/>
<line x1="509.13" y1="523.70" x2="509.13" y2="520.50" stroke="#0c2f5c" stroke-width="1.2"/>
<line x1="507.13" y1="520.50" x2="511.13" y2="520.50" stroke="#0c2f5c" stroke-width="1.2"/>
<path d="M520.08,563.20V510.50H526.98V563.20" fill="#fff" stroke="#ff8300" stroke-width="2"/>
<line x1="523.53" y1="509.50" x2="523.53" y2="504.70" stroke="#ff8300" stroke-width="1.2"/>
<line x1="521.53" y1="504.70" x2="525.53" y2="504.70" stroke="#ff8300" stroke-width="1.2"/>
<line x1="516.28" y1="563.20" x2="516.28" y2="566.70" stroke="#000" stroke-width="1.6"/>
<path d="M544.12,563.20V539.20H551.02V563.20" fill="#fff" stroke="#0c2f5c" stroke-width="2"/>
<line x1="547.57" y1="538.20" x2="547.57" y2="535.50" stroke="#0c2f5c" stroke-width="1.2"/>
<line x1="545.57" y1="535.50" x2="549.57" y2="535.50" stroke="#0c2f5c" stroke-width="1.2"/>
<path d="M558.52,563.20V537.30H565.42V563.20" fill="#fff" stroke="#ff8300" stroke-width="2"/>
<line x1="561.97" y1="536.30" x2="561.97" y2="534.30" stroke="#ff8300" stroke-width="1.2"/>
<line x1="559.97" y1="534.30" x2="563.97" y2="534.30" stroke="#ff8300" stroke-width="1.2"/>
<line x1="554.72" y1="563.20" x2="554.72" y2="566.70" stroke="#000" stroke-width="1.6"/>
<path d="M582.56,563.20V470.30H589.46V563.20" fill="#fff" stroke="#0c2f5c" stroke-width="2"/>
<line x1="586.01" y1="469.30" x2="586.01" y2="461.00" stroke="#0c2f5c" stroke-width="1.2"/>
<line x1="584.01" y1="461.00" x2="588.01" y2="461.00" stroke="#0c2f5c" stroke-width="1.2"/>
<path d="M596.96,563.20V475.40H603.86V563.20" fill="#fff" stroke="#ff8300" stroke-width="2"/>
<line x1="600.41" y1="474.40" x2="600.41" y2="465.30" stroke="#ff8300" stroke-width="1.2"/>
<line x1="598.41" y1="465.30" x2="602.41" y2="465.30" stroke="#ff8300" stroke-width="1.2"/>
<line x1="593.16" y1="563.20" x2="593.16" y2="566.70" stroke="#000" stroke-width="1.6"/>
<path d="M621.00,563.20V479.30H627.90V563.20" fill="#fff" stroke="#0c2f5c" stroke-width="2"/>
<line x1="624.45" y1="478.30" x2="624.45" y2="474.00" stroke="#0c2f5c" stroke-width="1.2"/>
<line x1="622.45" y1="474.00" x2="626.45" y2="474.00" stroke="#0c2f5c" stroke-width="1.2"/>
<path d="M635.40,563.20V476.20H642.30V563.20" fill="#fff" stroke="#ff8300" stroke-width="2"/>
<line x1="638.85" y1="475.20" x2="638.85" y2="469.30" stroke="#ff8300" stroke-width="1.2"/>
<line x1="636.85" y1="469.30" x2="640.85" y2="469.30" stroke="#ff8300" stroke-width="1.2"/>
<line x1="631.60" y1="563.20" x2="631.60" y2="566.70" stroke="#000" stroke-width="1.6"/>
<text x="512.90" y="427.00" font-size="14.6" fill="#636363" textLength="52.1" lengthAdjust="spacingAndGlyphs">PC3-OE</text>
<text x="417.00" y="583.90" font-size="14.5" fill="#636363" text-anchor="end" textLength="42.5" lengthAdjust="spacingAndGlyphs">Erastin</text>
<line x1="437.30" y1="580.40" x2="441.30" y2="580.40" stroke="#555555" stroke-width="1.9"/>
<line x1="475.60" y1="580.40" x2="479.60" y2="580.40" stroke="#555555" stroke-width="1.9"/>
<line x1="512.50" y1="579.90" x2="519.30" y2="579.90" stroke="#555555" stroke-width="1.8"/>
<line x1="515.90" y1="576.60" x2="515.90" y2="583.20" stroke="#555555" stroke-width="1.8"/>
<line x1="552.20" y1="580.40" x2="556.20" y2="580.40" stroke="#555555" stroke-width="1.9"/>
<line x1="589.10" y1="579.90" x2="595.90" y2="579.90" stroke="#555555" stroke-width="1.8"/>
<line x1="592.50" y1="576.60" x2="592.50" y2="583.20" stroke="#555555" stroke-width="1.8"/>
<line x1="628.80" y1="580.40" x2="632.80" y2="580.40" stroke="#555555" stroke-width="1.9"/>
<text x="417.00" y="598.80" font-size="14.5" fill="#636363" text-anchor="end" textLength="33.8" lengthAdjust="spacingAndGlyphs">RSL3</text>
<line x1="437.30" y1="595.30" x2="441.30" y2="595.30" stroke="#555555" stroke-width="1.9"/>
<line x1="475.60" y1="595.30" x2="479.60" y2="595.30" stroke="#555555" stroke-width="1.9"/>
<line x1="513.90" y1="595.30" x2="517.90" y2="595.30" stroke="#555555" stroke-width="1.9"/>
<line x1="550.80" y1="594.80" x2="557.60" y2="594.80" stroke="#555555" stroke-width="1.8"/>
<line x1="554.20" y1="591.50" x2="554.20" y2="598.10" stroke="#555555" stroke-width="1.8"/>
<line x1="590.50" y1="595.30" x2="594.50" y2="595.30" stroke="#555555" stroke-width="1.9"/>
<line x1="627.40" y1="594.80" x2="634.20" y2="594.80" stroke="#555555" stroke-width="1.8"/>
<line x1="630.80" y1="591.50" x2="630.80" y2="598.10" stroke="#555555" stroke-width="1.8"/>
<text x="417.00" y="614.50" font-size="14.5" fill="#636363" text-anchor="end" textLength="32.3" lengthAdjust="spacingAndGlyphs">Fer-1</text>
<line x1="437.30" y1="611.00" x2="441.30" y2="611.00" stroke="#555555" stroke-width="1.9"/>
<line x1="474.20" y1="610.50" x2="481.00" y2="610.50" stroke="#555555" stroke-width="1.8"/>
<line x1="477.60" y1="607.20" x2="477.60" y2="613.80" stroke="#555555" stroke-width="1.8"/>
<line x1="513.90" y1="611.00" x2="517.90" y2="611.00" stroke="#555555" stroke-width="1.9"/>
<line x1="552.20" y1="611.00" x2="556.20" y2="611.00" stroke="#555555" stroke-width="1.9"/>
<line x1="589.10" y1="610.50" x2="595.90" y2="610.50" stroke="#555555" stroke-width="1.8"/>
<line x1="592.50" y1="607.20" x2="592.50" y2="613.80" stroke="#555555" stroke-width="1.8"/>
<line x1="627.40" y1="610.50" x2="634.20" y2="610.50" stroke="#555555" stroke-width="1.8"/>
<line x1="630.80" y1="607.20" x2="630.80" y2="613.80" stroke="#555555" stroke-width="1.8"/>
<line x1="57.80" y1="359.90" x2="61.30" y2="359.90" stroke="#000" stroke-width="1.6"/>
<text x="56.00" y="363.90" font-size="11.5" font-weight="bold" fill="#000" text-anchor="end" textLength="15.3" lengthAdjust="spacingAndGlyphs">0.0</text>
<line x1="57.80" y1="321.03" x2="61.30" y2="321.03" stroke="#000" stroke-width="1.6"/>
<text x="56.00" y="325.03" font-size="11.5" font-weight="bold" fill="#000" text-anchor="end" textLength="15.3" lengthAdjust="spacingAndGlyphs">0.5</text>
<line x1="57.80" y1="282.17" x2="61.30" y2="282.17" stroke="#000" stroke-width="1.6"/>
<text x="56.00" y="286.17" font-size="11.5" font-weight="bold" fill="#000" text-anchor="end" textLength="15.3" lengthAdjust="spacingAndGlyphs">1.0</text>
<line x1="57.80" y1="243.30" x2="61.30" y2="243.30" stroke="#000" stroke-width="1.6"/>
<text x="56.00" y="247.30" font-size="11.5" font-weight="bold" fill="#000" text-anchor="end" textLength="15.3" lengthAdjust="spacingAndGlyphs">1.5</text>
<line x1="61.30" y1="242.50" x2="61.30" y2="360.90" stroke="#000" stroke-width="2.0"/>
<line x1="60.30" y1="359.90" x2="179.30" y2="359.90" stroke="#000" stroke-width="2.0"/>
<text transform="translate(34.00,360.50) rotate(-90)" x="0" y="0" font-size="11.5" font-weight="bold" fill="#000" textLength="122.9" lengthAdjust="spacingAndGlyphs">Normalized GSH Level</text>
<rect x="64.90" y="246.20" width="9.00" height="3.30" fill="none" stroke="#0c2f5c" stroke-width="1.6"/>
<text x="78.40" y="249.70" font-size="9.8" font-weight="bold" fill="#000" textLength="27.6" lengthAdjust="spacingAndGlyphs">DMSO</text>
<rect x="64.90" y="255.00" width="9.00" height="3.30" fill="none" stroke="#ff8300" stroke-width="1.6"/>
<text x="78.40" y="259.40" font-size="9.8" font-weight="bold" fill="#000" textLength="31.2" lengthAdjust="spacingAndGlyphs">Erastin</text>
<path d="M67.30,359.90V281.90H75.30V359.90" fill="#fff" stroke="#0c2f5c" stroke-width="1.8"/>
<path d="M82.30,359.90V318.20H90.30V359.90" fill="#fff" stroke="#ff8300" stroke-width="1.8"/>
<path d="M107.90,359.90V308.20H115.90V359.90" fill="#fff" stroke="#0c2f5c" stroke-width="1.8"/>
<path d="M123.10,359.90V328.90H131.10V359.90" fill="#fff" stroke="#ff8300" stroke-width="1.8"/>
<line x1="127.10" y1="328.00" x2="127.10" y2="325.00" stroke="#ff8300" stroke-width="1.1"/>
<line x1="125.10" y1="325.00" x2="129.10" y2="325.00" stroke="#ff8300" stroke-width="1.1"/>
<path d="M148.40,359.90V312.10H156.40V359.90" fill="#fff" stroke="#0c2f5c" stroke-width="1.8"/>
<path d="M163.40,359.90V334.50H171.40V359.90" fill="#fff" stroke="#ff8300" stroke-width="1.8"/>
<line x1="167.40" y1="333.60" x2="167.40" y2="331.00" stroke="#ff8300" stroke-width="1.1"/>
<line x1="165.40" y1="331.00" x2="169.40" y2="331.00" stroke="#ff8300" stroke-width="1.1"/>
<line x1="78.80" y1="359.90" x2="78.80" y2="363.40" stroke="#000" stroke-width="1.6"/>
<line x1="119.10" y1="359.90" x2="119.10" y2="363.40" stroke="#000" stroke-width="1.6"/>
<line x1="159.50" y1="359.90" x2="159.50" y2="363.40" stroke="#000" stroke-width="1.6"/>
<rect x="66.30" y="279.00" width="4.00" height="4.00" fill="#000" stroke="none" stroke-width="0"/>
<rect x="69.80" y="283.60" width="4.00" height="4.00" fill="#000" stroke="none" stroke-width="0"/>
<rect x="72.60" y="279.20" width="4.00" height="4.00" fill="#000" stroke="none" stroke-width="0"/>
<polygon points="82.80,315.40 80.60,319.40 85.00,319.40" fill="#000"/>
<polygon points="86.50,314.00 84.30,318.00 88.70,318.00" fill="#000"/>
<polygon points="89.80,314.80 87.60,318.80 92.00,318.80" fill="#000"/>
<circle cx="109.40" cy="308.60" r="2.00" fill="#000"/>
<circle cx="112.20" cy="306.40" r="2.00" fill="#000"/>
<circle cx="115.00" cy="307.00" r="2.00" fill="#000"/>
<polygon points="123.40,328.40 121.20,332.40 125.60,332.40" fill="#000"/>
<polygon points="124.30,324.20 122.10,328.20 126.50,328.20" fill="#000"/>
<polygon points="130.20,326.00 128.00,330.00 132.40,330.00" fill="#000"/>
<rect x="147.60" y="309.00" width="4.00" height="4.00" fill="#000" stroke="none" stroke-width="0"/>
<rect x="150.30" y="308.80" width="4.00" height="4.00" fill="#000" stroke="none" stroke-width="0"/>
<rect x="153.00" y="309.00" width="4.00" height="4.00" fill="#000" stroke="none" stroke-width="0"/>
<polygon points="164.20,333.60 162.00,337.60 166.40,337.60" fill="#000"/>
<polygon points="164.60,329.40 162.40,333.40 166.80,333.40" fill="#000"/>
<polygon points="170.40,331.60 168.20,335.60 172.60,335.60" fill="#000"/>
<line x1="69.90" y1="269.10" x2="169.20" y2="269.10" stroke="#1a1a1a" stroke-width="1.15"/>
<line x1="69.90" y1="269.10" x2="69.90" y2="279.30" stroke="#1a1a1a" stroke-width="1.15"/>
<line x1="86.50" y1="269.10" x2="86.50" y2="312.60" stroke="#1a1a1a" stroke-width="1.15"/>
<line x1="110.70" y1="269.10" x2="110.70" y2="302.00" stroke="#1a1a1a" stroke-width="1.15"/>
<line x1="127.40" y1="269.10" x2="127.40" y2="324.00" stroke="#1a1a1a" stroke-width="1.15"/>
<line x1="152.60" y1="269.10" x2="152.60" y2="305.90" stroke="#1a1a1a" stroke-width="1.15"/>
<line x1="168.90" y1="269.10" x2="168.90" y2="329.20" stroke="#1a1a1a" stroke-width="1.15"/>
<path d="M81.30,272.40L81.30,277.40M79.13,273.65L83.47,276.15M83.47,273.65L79.13,276.15" stroke="#111" stroke-width="1.15" fill="none"/>
<path d="M81.30,282.40L81.30,287.40M79.13,283.65L83.47,286.15M83.47,283.65L79.13,286.15" stroke="#111" stroke-width="1.15" fill="none"/>
<path d="M106.20,272.40L106.20,277.40M104.03,273.65L108.37,276.15M108.37,273.65L104.03,276.15" stroke="#111" stroke-width="1.15" fill="none"/>
<path d="M106.20,282.40L106.20,287.40M104.03,283.65L108.37,286.15M108.37,283.65L104.03,286.15" stroke="#111" stroke-width="1.15" fill="none"/>
<path d="M121.90,272.40L121.90,277.40M119.73,273.65L124.07,276.15M124.07,273.65L119.73,276.15" stroke="#111" stroke-width="1.15" fill="none"/>
<path d="M121.90,282.40L121.90,287.40M119.73,283.65L124.07,286.15M124.07,283.65L119.73,286.15" stroke="#111" stroke-width="1.15" fill="none"/>
<path d="M147.00,272.40L147.00,277.40M144.83,273.65L149.17,276.15M149.17,273.65L144.83,276.15" stroke="#111" stroke-width="1.15" fill="none"/>
<path d="M147.00,282.40L147.00,287.40M144.83,283.65L149.17,286.15M149.17,283.65L144.83,286.15" stroke="#111" stroke-width="1.15" fill="none"/>
<path d="M164.50,272.40L164.50,277.40M162.33,273.65L166.67,276.15M166.67,273.65L162.33,276.15" stroke="#111" stroke-width="1.15" fill="none"/>
<path d="M164.50,282.40L164.50,287.40M162.33,283.65L166.67,286.15M166.67,283.65L162.33,286.15" stroke="#111" stroke-width="1.15" fill="none"/>
<text transform="translate(83.00,374.20) rotate(-45)" x="0" y="0" font-size="11" font-weight="bold" text-anchor="end" textLength="20.5" lengthAdjust="spacingAndGlyphs">NC</text>
<text transform="translate(123.50,374.20) rotate(-45)" x="0" y="0" font-size="11" font-weight="bold" text-anchor="end" textLength="41.6" lengthAdjust="spacingAndGlyphs">TRIB3-1</text>
<text transform="translate(163.80,374.20) rotate(-45)" x="0" y="0" font-size="11" font-weight="bold" text-anchor="end" textLength="41.6" lengthAdjust="spacingAndGlyphs">TRIB3-2</text>
<text x="84.00" y="236.00" font-size="14.6" fill="#636363" textLength="67.5" lengthAdjust="spacingAndGlyphs">LNCaP-KD</text>
<line x1="228.30" y1="363.40" x2="231.80" y2="363.40" stroke="#000" stroke-width="1.6"/>
<text x="226.80" y="367.40" font-size="11.5" font-weight="bold" fill="#000" text-anchor="end" textLength="15.3" lengthAdjust="spacingAndGlyphs">0.0</text>
<line x1="228.30" y1="323.77" x2="231.80" y2="323.77" stroke="#000" stroke-width="1.6"/>
<text x="226.80" y="327.77" font-size="11.5" font-weight="bold" fill="#000" text-anchor="end" textLength="15.3" lengthAdjust="spacingAndGlyphs">0.5</text>
<line x1="228.30" y1="284.13" x2="231.80" y2="284.13" stroke="#000" stroke-width="1.6"/>
<text x="226.80" y="288.13" font-size="11.5" font-weight="bold" fill="#000" text-anchor="end" textLength="15.3" lengthAdjust="spacingAndGlyphs">1.0</text>
<line x1="228.30" y1="244.50" x2="231.80" y2="244.50" stroke="#000" stroke-width="1.6"/>
<text x="226.80" y="248.50" font-size="11.5" font-weight="bold" fill="#000" text-anchor="end" textLength="15.3" lengthAdjust="spacingAndGlyphs">1.5</text>
<line x1="231.80" y1="243.70" x2="231.80" y2="364.40" stroke="#000" stroke-width="2.0"/>
<line x1="230.80" y1="363.40" x2="351.80" y2="363.40" stroke="#000" stroke-width="2.0"/>
<text transform="translate(204.00,363.00) rotate(-90)" x="0" y="0" font-size="11.5" font-weight="bold" fill="#000" textLength="125.0" lengthAdjust="spacingAndGlyphs">Normalized GSH Level</text>
<rect x="236.20" y="246.20" width="9.00" height="3.30" fill="none" stroke="#0c2f5c" stroke-width="1.6"/>
<text x="249.80" y="249.70" font-size="9.8" font-weight="bold" fill="#000" textLength="27.8" lengthAdjust="spacingAndGlyphs">DMSO</text>
<rect x="236.20" y="255.00" width="9.00" height="3.30" fill="none" stroke="#ff8300" stroke-width="1.6"/>
<text x="249.80" y="259.40" font-size="9.8" font-weight="bold" fill="#000" textLength="31.6" lengthAdjust="spacingAndGlyphs">Erastin</text>
<path d="M238.20,363.40V285.60H246.40V363.40" fill="#fff" stroke="#0c2f5c" stroke-width="1.8"/>
<path d="M253.90,363.40V325.40H262.10V363.40" fill="#fff" stroke="#ff8300" stroke-width="1.8"/>
<line x1="258.00" y1="324.50" x2="258.00" y2="318.00" stroke="#ff8300" stroke-width="1.1"/>
<line x1="256.00" y1="318.00" x2="260.00" y2="318.00" stroke="#ff8300" stroke-width="1.1"/>
<path d="M279.50,363.40V315.90H287.70V363.40" fill="#fff" stroke="#0c2f5c" stroke-width="1.8"/>
<path d="M295.10,363.40V337.80H303.30V363.40" fill="#fff" stroke="#ff8300" stroke-width="1.8"/>
<path d="M321.10,363.40V319.70H329.30V363.40" fill="#fff" stroke="#0c2f5c" stroke-width="1.8"/>
<path d="M336.30,363.40V341.60H344.50V363.40" fill="#fff" stroke="#ff8300" stroke-width="1.8"/>
<line x1="249.80" y1="363.40" x2="249.80" y2="366.90" stroke="#000" stroke-width="1.6"/>
<line x1="291.10" y1="363.40" x2="291.10" y2="366.90" stroke="#000" stroke-width="1.6"/>
<line x1="332.70" y1="363.40" x2="332.70" y2="366.90" stroke="#000" stroke-width="1.6"/>
<rect x="237.40" y="283.40" width="4.00" height="4.00" fill="#000" stroke="none" stroke-width="0"/>
<rect x="240.50" y="278.80" width="4.00" height="4.00" fill="#000" stroke="none" stroke-width="0"/>
<rect x="243.50" y="282.60" width="4.00" height="4.00" fill="#000" stroke="none" stroke-width="0"/>
<polygon points="255.20,319.60 253.00,323.60 257.40,323.60" fill="#000"/>
<polygon points="258.20,328.80 256.00,332.80 260.40,332.80" fill="#000"/>
<polygon points="261.40,318.40 259.20,322.40 263.60,322.40" fill="#000"/>
<rect x="278.20" y="313.00" width="4.00" height="4.00" fill="#000" stroke="none" stroke-width="0"/>
<rect x="278.20" y="316.80" width="4.00" height="4.00" fill="#000" stroke="none" stroke-width="0"/>
<rect x="284.60" y="312.20" width="4.00" height="4.00" fill="#000" stroke="none" stroke-width="0"/>
<rect x="284.60" y="316.00" width="4.00" height="4.00" fill="#000" stroke="none" stroke-width="0"/>
<polygon points="295.90,334.40 293.70,338.40 298.10,338.40" fill="#000"/>
<polygon points="299.00,332.60 296.80,336.60 301.20,336.60" fill="#000"/>
<polygon points="302.30,334.40 300.10,338.40 304.50,338.40" fill="#000"/>
<rect x="320.00" y="313.00" width="4.00" height="4.00" fill="#000" stroke="none" stroke-width="0"/>
<rect x="325.50" y="311.80" width="4.00" height="4.00" fill="#000" stroke="none" stroke-width="0"/>
<rect x="325.50" y="319.00" width="4.00" height="4.00" fill="#000" stroke="none" stroke-width="0"/>
<rect x="320.00" y="319.00" width="4.00" height="4.00" fill="#000" stroke="none" stroke-width="0"/>
<polygon points="337.20,341.00 335.00,345.00 339.40,345.00" fill="#000"/>
<polygon points="343.40,335.80 341.20,339.80 345.60,339.80" fill="#000"/>
<polygon points="344.40,341.00 342.20,345.00 346.60,345.00" fill="#000"/>
<line x1="241.50" y1="268.50" x2="340.80" y2="268.50" stroke="#1a1a1a" stroke-width="1.15"/>
<line x1="241.50" y1="268.50" x2="241.50" y2="275.20" stroke="#1a1a1a" stroke-width="1.15"/>
<line x1="258.20" y1="268.50" x2="258.20" y2="316.00" stroke="#1a1a1a" stroke-width="1.15"/>
<line x1="282.90" y1="268.50" x2="282.90" y2="308.40" stroke="#1a1a1a" stroke-width="1.15"/>
<line x1="299.00" y1="268.50" x2="299.00" y2="333.00" stroke="#1a1a1a" stroke-width="1.15"/>
<line x1="324.60" y1="268.50" x2="324.60" y2="311.20" stroke="#1a1a1a" stroke-width="1.15"/>
<line x1="340.80" y1="268.50" x2="340.80" y2="336.90" stroke="#1a1a1a" stroke-width="1.15"/>
<path d="M253.50,270.30L253.50,275.30M251.33,271.55L255.67,274.05M255.67,271.55L251.33,274.05" stroke="#111" stroke-width="1.15" fill="none"/>
<path d="M253.50,280.60L253.50,285.60M251.33,281.85L255.67,284.35M255.67,281.85L251.33,284.35" stroke="#111" stroke-width="1.15" fill="none"/>
<path d="M278.70,270.30L278.70,275.30M276.53,271.55L280.87,274.05M280.87,271.55L276.53,274.05" stroke="#111" stroke-width="1.15" fill="none"/>
<path d="M278.70,280.60L278.70,285.60M276.53,281.85L280.87,284.35M280.87,281.85L276.53,284.35" stroke="#111" stroke-width="1.15" fill="none"/>
<path d="M293.70,270.30L293.70,275.30M291.53,271.55L295.87,274.05M295.87,271.55L291.53,274.05" stroke="#111" stroke-width="1.15" fill="none"/>
<path d="M293.70,280.60L293.70,285.60M291.53,281.85L295.87,284.35M295.87,281.85L291.53,284.35" stroke="#111" stroke-width="1.15" fill="none"/>
<path d="M319.00,270.30L319.00,275.30M316.83,271.55L321.17,274.05M321.17,271.55L316.83,274.05" stroke="#111" stroke-width="1.15" fill="none"/>
<path d="M319.00,280.60L319.00,285.60M316.83,281.85L321.17,284.35M321.17,281.85L316.83,284.35" stroke="#111" stroke-width="1.15" fill="none"/>
<path d="M337.00,270.30L337.00,275.30M334.83,271.55L339.17,274.05M339.17,271.55L334.83,274.05" stroke="#111" stroke-width="1.15" fill="none"/>
<path d="M337.00,280.60L337.00,285.60M334.83,281.85L339.17,284.35M339.17,281.85L334.83,284.35" stroke="#111" stroke-width="1.15" fill="none"/>
<text transform="translate(254.30,376.30) rotate(-45)" x="0" y="0" font-size="10" font-weight="bold" text-anchor="end" textLength="19.0" lengthAdjust="spacingAndGlyphs">NC</text>
<text transform="translate(294.80,376.30) rotate(-45)" x="0" y="0" font-size="10" font-weight="bold" text-anchor="end" textLength="38.5" lengthAdjust="spacingAndGlyphs">TRIB3-1</text>
<text transform="translate(336.30,376.30) rotate(-45)" x="0" y="0" font-size="10" font-weight="bold" text-anchor="end" textLength="38.5" lengthAdjust="spacingAndGlyphs">TRIB3-2</text>
<text x="265.30" y="235.80" font-size="14.6" fill="#636363" textLength="50.0" lengthAdjust="spacingAndGlyphs">PC3-KD</text>
<rect x="366.50" y="260.60" width="145.80" height="104.40" fill="#fff" stroke="#999" stroke-width="1"/>
<line x1="366.55" y1="260.10" x2="366.55" y2="365.50" stroke="#555" stroke-width="1.1"/>
<polygon points="367.10,303.30 367.10,302.75 367.60,302.66 368.10,302.55 368.60,302.42 369.10,302.28 369.60,302.12 370.10,301.93 370.60,301.73 371.10,301.49 371.60,301.23 372.10,300.93 372.60,300.60 373.10,300.23 373.60,299.82 374.10,299.37 374.60,298.87 375.10,298.32 375.60,297.72 376.10,297.07 376.60,296.36 377.10,295.60 377.60,294.78 378.10,293.89 378.60,292.95 379.10,291.95 379.60,290.89 380.10,289.77 380.60,288.60 381.10,287.38 381.60,286.11 382.10,284.80 382.60,283.46 383.10,282.09 383.60,280.70 384.10,279.31 384.60,277.91 385.10,276.53 385.60,275.18 386.10,273.87 386.60,272.61 387.10,271.41 387.60,270.30 388.10,269.29 388.60,268.40 389.10,267.63 389.60,267.02 390.10,266.57 390.60,266.33 391.10,266.37 391.60,266.71 392.10,267.28 392.60,268.05 393.10,268.98 393.60,270.06 394.10,271.26 394.60,272.57 395.10,273.96 395.60,275.41 396.10,276.91 396.60,278.43 397.10,279.97 397.60,281.50 398.10,283.02 398.60,284.51 399.10,285.95 399.60,287.35 400.10,288.70 400.60,289.98 401.10,291.20 401.60,292.34 402.10,293.42 402.60,294.42 403.10,295.35 403.60,296.21 404.10,297.00 404.60,297.72 405.10,298.38 405.60,298.97 406.10,299.51 406.60,299.99 407.10,300.42 407.60,300.80 408.10,301.14 408.60,301.44 409.10,301.71 409.60,301.94 410.10,302.14 410.60,302.31 411.10,302.46 411.60,302.59 412.10,302.71 412.60,302.80 413.10,302.88 413.60,302.95 414.10,303.01 414.60,303.06 415.10,303.10 415.60,303.14 416.10,303.17 416.60,303.19 417.10,303.21 417.60,303.23 418.10,303.24 418.60,303.25 419.10,303.26 419.60,303.27 420.00,303.30" fill="#b5b5b5"/>
<line x1="366.50" y1="303.30" x2="512.30" y2="303.30" stroke="#cfcfcf" stroke-width="1.0"/>
<polygon points="450.00,323.90 450.00,323.89 450.50,323.88 451.00,323.88 451.50,323.87 452.00,323.86 452.50,323.85 453.00,323.84 453.50,323.82 454.00,323.80 454.50,323.77 455.00,323.73 455.50,323.69 456.00,323.63 456.50,323.56 457.00,323.47 457.50,323.36 458.00,323.23 458.50,323.06 459.00,322.87 459.50,322.63 460.00,322.35 460.50,322.02 461.00,321.62 461.50,321.16 462.00,320.62 462.50,320.00 463.00,319.28 463.50,318.45 464.00,317.52 464.50,316.46 465.00,315.29 465.50,313.98 466.00,312.53 466.50,310.96 467.00,309.26 467.50,307.43 468.00,305.50 468.50,303.47 469.00,301.37 469.50,299.23 470.00,297.07 470.50,294.94 471.00,292.88 471.50,290.94 472.00,289.18 472.50,287.66 473.00,286.46 473.50,285.68 474.00,285.68 474.50,286.55 475.00,287.69 475.50,289.00 476.00,290.42 476.50,291.91 477.00,293.44 477.50,294.99 478.00,296.54 478.50,298.08 479.00,299.59 479.50,301.07 480.00,302.50 480.50,303.89 481.00,305.23 481.50,306.51 482.00,307.73 482.50,308.90 483.00,310.00 483.50,311.05 484.00,312.03 484.50,312.96 485.00,313.83 485.50,314.64 486.00,315.41 486.50,316.12 487.00,316.78 487.50,317.39 488.00,317.96 488.50,318.48 489.00,318.97 489.50,319.42 490.00,319.83 490.50,320.21 491.00,320.55 491.50,320.87 492.00,321.16 492.50,321.43 493.00,321.67 493.50,321.89 494.00,322.09 494.50,322.28 495.00,322.44 495.50,322.59 496.00,322.73 496.50,322.85 497.00,322.96 497.50,323.06 498.00,323.15 498.50,323.23 499.00,323.30 499.50,323.37 500.00,323.43 500.50,323.48 501.00,323.53 501.50,323.57 502.00,323.61 502.50,323.64 503.00,323.67 503.50,323.70 504.00,323.72 504.50,323.74 505.00,323.76 505.50,323.78 506.00,323.79 506.00,323.90" fill="#abd4f6"/>
<line x1="366.50" y1="323.90" x2="512.30" y2="323.90" stroke="#c6e2f8" stroke-width="1.0"/>
<polygon points="465.00,344.90 465.00,344.84 465.50,344.82 466.00,344.79 466.50,344.76 467.00,344.72 467.50,344.67 468.00,344.61 468.50,344.53 469.00,344.44 469.50,344.32 470.00,344.18 470.50,344.01 471.00,343.81 471.50,343.57 472.00,343.28 472.50,342.94 473.00,342.54 473.50,342.07 474.00,341.54 474.50,340.92 475.00,340.22 475.50,339.42 476.00,338.53 476.50,337.54 477.00,336.43 477.50,335.22 478.00,333.90 478.50,332.47 479.00,330.94 479.50,329.31 480.00,327.60 480.50,325.81 481.00,323.97 481.50,322.09 482.00,320.19 482.50,318.29 483.00,316.43 483.50,314.63 484.00,312.92 484.50,311.33 485.00,309.90 485.50,308.64 486.00,307.60 486.50,306.79 487.00,306.25 487.50,306.01 488.00,306.25 488.50,306.84 489.00,307.62 489.50,308.53 490.00,309.54 490.50,310.63 491.00,311.78 491.50,312.98 492.00,314.21 492.50,315.45 493.00,316.71 493.50,317.97 494.00,319.23 494.50,320.47 495.00,321.70 495.50,322.90 496.00,324.08 496.50,325.22 497.00,326.34 497.50,327.42 498.00,328.46 498.50,329.46 499.00,330.42 499.50,331.34 500.00,332.22 500.50,333.06 501.00,333.86 501.50,334.62 502.00,335.33 502.50,336.01 503.00,336.66 503.50,337.26 504.00,337.83 504.50,338.36 505.00,338.86 505.50,339.33 506.00,339.77 506.50,340.18 507.00,340.56 507.50,340.92 508.00,341.25 508.50,341.55 509.00,341.84 509.50,342.10 510.00,342.34 510.50,342.57 511.00,342.77 511.50,342.96 512.00,343.14 512.30,344.90" fill="#0b0f55"/>
<line x1="366.50" y1="344.90" x2="512.30" y2="344.90" stroke="#b8b8e0" stroke-width="1.0"/>
<polygon points="455.00,365.20 455.00,364.97 455.50,364.95 456.00,364.92 456.50,364.89 457.00,364.86 457.50,364.82 458.00,364.78 458.50,364.74 459.00,364.69 459.50,364.64 460.00,364.58 460.50,364.52 461.00,364.45 461.50,364.38 462.00,364.30 462.50,364.21 463.00,364.12 463.50,364.01 464.00,363.90 464.50,363.78 465.00,363.64 465.50,363.50 466.00,363.34 466.50,363.17 467.00,362.98 467.50,362.79 468.00,362.57 468.50,362.34 469.00,362.09 469.50,361.82 470.00,361.53 470.50,361.22 471.00,360.89 471.50,360.53 472.00,360.15 472.50,359.74 473.00,359.30 473.50,358.83 474.00,358.33 474.50,357.81 475.00,357.24 475.50,356.65 476.00,356.01 476.50,355.34 477.00,354.64 477.50,353.89 478.00,353.10 478.50,352.28 479.00,351.41 479.50,350.50 480.00,349.55 480.50,348.57 481.00,347.54 481.50,346.47 482.00,345.36 482.50,344.22 483.00,343.05 483.50,341.84 484.00,340.61 484.50,339.36 485.00,338.10 485.50,336.82 486.00,335.54 486.50,334.28 487.00,333.03 487.50,331.82 488.00,330.66 488.50,329.58 489.00,328.61 489.50,327.80 490.00,327.30 490.50,327.51 491.00,328.06 491.50,328.93 492.00,330.08 492.50,331.46 493.00,333.04 493.50,334.79 494.00,336.66 494.50,338.62 495.00,340.64 495.50,342.66 496.00,344.67 496.50,346.64 497.00,348.54 497.50,350.35 498.00,352.06 498.50,353.65 499.00,355.12 499.50,356.47 500.00,357.69 500.50,358.78 501.00,359.75 501.50,360.61 502.00,361.36 502.50,362.00 503.00,362.56 503.50,363.03 504.00,363.44 504.50,363.77 505.00,364.05 505.50,364.28 506.00,364.47 506.50,364.63 507.00,364.75 507.50,364.85 508.00,364.93 508.50,364.99 509.00,365.04 509.50,365.08 510.00,365.11 510.50,365.13 511.00,365.15 511.50,365.16 512.00,365.17 512.00,365.20" fill="#ff8000"/>
<line x1="366.00" y1="365.50" x2="512.80" y2="365.50" stroke="#000" stroke-width="1.2"/>
<line x1="366.50" y1="365.50" x2="366.50" y2="367.00" stroke="#000" stroke-width="1.0"/>
<line x1="373.95" y1="365.50" x2="373.95" y2="367.10" stroke="#000" stroke-width="0.8"/>
<line x1="378.60" y1="365.50" x2="378.60" y2="367.10" stroke="#000" stroke-width="0.8"/>
<line x1="381.89" y1="365.50" x2="381.89" y2="367.10" stroke="#000" stroke-width="0.8"/>
<line x1="384.45" y1="365.50" x2="384.45" y2="367.10" stroke="#000" stroke-width="0.8"/>
<line x1="386.54" y1="365.50" x2="386.54" y2="367.10" stroke="#000" stroke-width="0.8"/>
<line x1="388.31" y1="365.50" x2="388.31" y2="367.10" stroke="#000" stroke-width="0.8"/>
<line x1="389.84" y1="365.50" x2="389.84" y2="367.10" stroke="#000" stroke-width="0.8"/>
<line x1="391.19" y1="365.50" x2="391.19" y2="367.10" stroke="#000" stroke-width="0.8"/>
<line x1="400.35" y1="365.50" x2="400.35" y2="367.10" stroke="#000" stroke-width="0.8"/>
<line x1="405.00" y1="365.50" x2="405.00" y2="367.10" stroke="#000" stroke-width="0.8"/>
<line x1="408.29" y1="365.50" x2="408.29" y2="367.10" stroke="#000" stroke-width="0.8"/>
<line x1="410.85" y1="365.50" x2="410.85" y2="367.10" stroke="#000" stroke-width="0.8"/>
<line x1="412.94" y1="365.50" x2="412.94" y2="367.10" stroke="#000" stroke-width="0.8"/>
<line x1="414.71" y1="365.50" x2="414.71" y2="367.10" stroke="#000" stroke-width="0.8"/>
<line x1="416.24" y1="365.50" x2="416.24" y2="367.10" stroke="#000" stroke-width="0.8"/>
<line x1="417.59" y1="365.50" x2="417.59" y2="367.10" stroke="#000" stroke-width="0.8"/>
<line x1="426.75" y1="365.50" x2="426.75" y2="367.10" stroke="#000" stroke-width="0.8"/>
<line x1="431.40" y1="365.50" x2="431.40" y2="367.10" stroke="#000" stroke-width="0.8"/>
<line x1="434.69" y1="365.50" x2="434.69" y2="367.10" stroke="#000" stroke-width="0.8"/>
<line x1="437.25" y1="365.50" x2="437.25" y2="367.10" stroke="#000" stroke-width="0.8"/>
<line x1="439.34" y1="365.50" x2="439.34" y2="367.10" stroke="#000" stroke-width="0.8"/>
<line x1="441.11" y1="365.50" x2="441.11" y2="367.10" stroke="#000" stroke-width="0.8"/>
<line x1="442.64" y1="365.50" x2="442.64" y2="367.10" stroke="#000" stroke-width="0.8"/>
<line x1="443.99" y1="365.50" x2="443.99" y2="367.10" stroke="#000" stroke-width="0.8"/>
<line x1="453.15" y1="365.50" x2="453.15" y2="367.10" stroke="#000" stroke-width="0.8"/>
<line x1="457.80" y1="365.50" x2="457.80" y2="367.10" stroke="#000" stroke-width="0.8"/>
<line x1="461.09" y1="365.50" x2="461.09" y2="367.10" stroke="#000" stroke-width="0.8"/>
<line x1="463.65" y1="365.50" x2="463.65" y2="367.10" stroke="#000" stroke-width="0.8"/>
<line x1="465.74" y1="365.50" x2="465.74" y2="367.10" stroke="#000" stroke-width="0.8"/>
<line x1="467.51" y1="365.50" x2="467.51" y2="367.10" stroke="#000" stroke-width="0.8"/>
<line x1="469.04" y1="365.50" x2="469.04" y2="367.10" stroke="#000" stroke-width="0.8"/>
<line x1="470.39" y1="365.50" x2="470.39" y2="367.10" stroke="#000" stroke-width="0.8"/>
<line x1="479.55" y1="365.50" x2="479.55" y2="367.10" stroke="#000" stroke-width="0.8"/>
<line x1="484.20" y1="365.50" x2="484.20" y2="367.10" stroke="#000" stroke-width="0.8"/>
<line x1="487.49" y1="365.50" x2="487.49" y2="367.10" stroke="#000" stroke-width="0.8"/>
<line x1="490.05" y1="365.50" x2="490.05" y2="367.10" stroke="#000" stroke-width="0.8"/>
<line x1="492.14" y1="365.50" x2="492.14" y2="367.10" stroke="#000" stroke-width="0.8"/>
<line x1="493.91" y1="365.50" x2="493.91" y2="367.10" stroke="#000" stroke-width="0.8"/>
<line x1="495.44" y1="365.50" x2="495.44" y2="367.10" stroke="#000" stroke-width="0.8"/>
<line x1="496.79" y1="365.50" x2="496.79" y2="367.10" stroke="#000" stroke-width="0.8"/>
<line x1="505.95" y1="365.50" x2="505.95" y2="367.10" stroke="#000" stroke-width="0.8"/>
<line x1="510.60" y1="365.50" x2="510.60" y2="367.10" stroke="#000" stroke-width="0.8"/>
<line x1="366.00" y1="365.50" x2="366.00" y2="367.90" stroke="#000" stroke-width="1.1"/>
<line x1="392.40" y1="365.50" x2="392.40" y2="367.90" stroke="#000" stroke-width="1.1"/>
<line x1="418.80" y1="365.50" x2="418.80" y2="367.90" stroke="#000" stroke-width="1.1"/>
<line x1="445.20" y1="365.50" x2="445.20" y2="367.90" stroke="#000" stroke-width="1.1"/>
<line x1="471.60" y1="365.50" x2="471.60" y2="367.90" stroke="#000" stroke-width="1.1"/>
<line x1="498.00" y1="365.50" x2="498.00" y2="367.90" stroke="#000" stroke-width="1.1"/>
<text x="373.50" y="375.00" font-size="5.2" fill="#333" text-anchor="middle">10<tspan dy="-2.34" font-size="4.16">2</tspan></text>
<text x="394.50" y="375.00" font-size="5.2" fill="#333" text-anchor="middle">10<tspan dy="-2.34" font-size="4.16">3</tspan></text>
<text x="421.00" y="375.00" font-size="5.2" fill="#333" text-anchor="middle">10<tspan dy="-2.34" font-size="4.16">4</tspan></text>
<text x="446.50" y="375.00" font-size="5.2" fill="#333" text-anchor="middle">10<tspan dy="-2.34" font-size="4.16">5</tspan></text>
<text x="473.50" y="375.00" font-size="5.2" fill="#333" text-anchor="middle">10<tspan dy="-2.34" font-size="4.16">6</tspan></text>
<text x="500.20" y="375.00" font-size="5.2" fill="#333" text-anchor="middle">10<tspan dy="-2.34" font-size="4.16">7</tspan></text>
<rect x="370.90" y="310.60" width="7.90" height="7.35" fill="#b5b5b5" stroke="none" stroke-width="0"/>
<text x="385.20" y="318.70" font-size="11.2" fill="#808080">NC-NC</text>
<rect x="370.90" y="323.50" width="7.90" height="7.35" fill="#abd4f6" stroke="none" stroke-width="0"/>
<text x="385.20" y="331.60" font-size="11.2" fill="#808080">NC-Fe<tspan font-size="6.94" dy="-4.6">2+</tspan></text>
<rect x="370.90" y="336.40" width="7.90" height="7.35" fill="#0f2a55" stroke="none" stroke-width="0"/>
<text x="385.20" y="344.50" font-size="11.2" fill="#808080">TRIB3-1-Fe<tspan font-size="6.94" dy="-4.6">2+</tspan></text>
<rect x="370.90" y="349.30" width="7.90" height="7.35" fill="#ff8000" stroke="none" stroke-width="0"/>
<text x="385.20" y="357.40" font-size="11.2" fill="#808080">TRIB3-2-Fe<tspan font-size="6.94" dy="-4.6">2+</tspan></text>
<text x="418.30" y="252.60" font-size="14.6" fill="#636363" textLength="43.8" lengthAdjust="spacingAndGlyphs">LNCaP</text>
<rect x="540.50" y="260.90" width="149.00" height="102.60" fill="#fff" stroke="#999" stroke-width="1"/>
<line x1="540.55" y1="260.40" x2="540.55" y2="364.00" stroke="#555" stroke-width="1.1"/>
<polygon points="541.10,303.20 541.10,301.35 541.60,301.26 542.10,301.16 542.60,301.06 543.10,300.95 543.60,300.85 544.10,300.73 544.60,300.62 545.10,300.50 545.60,300.38 546.10,300.26 546.60,300.14 547.10,300.01 547.60,299.88 548.10,299.74 548.60,299.61 549.10,299.47 549.60,299.32 550.10,299.18 550.60,299.03 551.10,298.88 551.60,298.72 552.10,298.55 552.60,298.38 553.10,298.20 553.60,298.01 554.10,297.81 554.60,297.58 555.10,297.34 555.60,297.07 556.10,296.77 556.60,296.43 557.10,296.05 557.60,295.62 558.10,295.12 558.60,294.56 559.10,293.92 559.60,293.19 560.10,292.37 560.60,291.44 561.10,290.42 561.60,289.28 562.10,288.03 562.60,286.67 563.10,285.21 563.60,283.66 564.10,282.03 564.60,280.34 565.10,278.62 565.60,276.87 566.10,275.14 566.60,273.46 567.10,271.86 567.60,270.37 568.10,269.03 568.60,267.86 569.10,266.89 569.60,266.15 570.10,265.66 570.60,265.42 571.10,265.46 571.60,265.81 572.10,266.47 572.60,267.42 573.10,268.64 573.60,270.10 574.10,271.76 574.60,273.59 575.10,275.56 575.60,277.60 576.10,279.70 576.60,281.81 577.10,283.89 577.60,285.92 578.10,287.86 578.60,289.70 579.10,291.42 579.60,293.01 580.10,294.45 580.60,295.76 581.10,296.92 581.60,297.95 582.10,298.84 582.60,299.62 583.10,300.28 583.60,300.84 584.10,301.31 584.60,301.69 585.10,302.01 585.60,302.27 586.10,302.48 586.60,302.65 587.10,302.78 587.60,302.88 588.10,302.96 588.60,303.02 589.10,303.07 589.60,303.10 590.10,303.13 590.60,303.15 591.10,303.16 591.60,303.18 592.00,303.20" fill="#b5b5b5"/>
<line x1="540.50" y1="303.20" x2="689.50" y2="303.20" stroke="#cfcfcf" stroke-width="1.0"/>
<polygon points="635.00,323.30 635.00,322.98 635.50,322.83 636.00,322.63 636.50,322.35 637.00,321.98 637.50,321.49 638.00,320.85 638.50,320.03 639.00,319.00 639.50,317.73 640.00,316.18 640.50,314.34 641.00,312.19 641.50,309.73 642.00,306.99 642.50,304.00 643.00,300.84 643.50,297.60 644.00,294.40 644.50,291.38 645.00,288.71 645.50,286.56 646.00,285.14 646.50,284.82 647.00,286.13 647.50,287.96 648.00,290.04 648.50,292.26 649.00,294.53 649.50,296.79 650.00,299.01 650.50,301.16 651.00,303.21 651.50,305.15 652.00,306.97 652.50,308.66 653.00,310.23 653.50,311.66 654.00,312.98 654.50,314.17 655.00,315.25 655.50,316.23 656.00,317.10 656.50,317.88 657.00,318.58 657.50,319.20 658.00,319.74 658.50,320.22 659.00,320.64 659.50,321.01 660.00,321.34 660.50,321.62 661.00,321.86 661.50,322.07 662.00,322.26 662.50,322.41 663.00,322.55 663.50,322.66 664.00,322.76 664.50,322.85 665.00,322.92 665.50,322.98 666.00,323.03 666.50,323.08 667.00,323.11 667.50,323.14 668.00,323.17 668.00,323.30" fill="#abd4f6"/>
<line x1="540.50" y1="323.40" x2="689.50" y2="323.40" stroke="#c6e2f8" stroke-width="1.0"/>
<polygon points="641.00,343.90 641.00,343.63 641.50,343.50 642.00,343.31 642.50,343.06 643.00,342.71 643.50,342.25 644.00,341.65 644.50,340.87 645.00,339.88 645.50,338.66 646.00,337.17 646.50,335.40 647.00,333.33 647.50,330.97 648.00,328.35 648.50,325.49 649.00,322.48 649.50,319.39 650.00,316.33 650.50,313.43 651.00,310.82 651.50,308.63 652.00,307.01 652.50,306.07 653.00,305.98 653.50,306.58 654.00,307.57 654.50,308.86 655.00,310.40 655.50,312.11 656.00,313.95 656.50,315.88 657.00,317.86 657.50,319.85 658.00,321.83 658.50,323.77 659.00,325.64 659.50,327.43 660.00,329.13 660.50,330.72 661.00,332.21 661.50,333.58 662.00,334.84 662.50,335.98 663.00,337.02 663.50,337.94 664.00,338.77 664.50,339.51 665.00,340.15 665.50,340.72 666.00,341.21 666.50,341.64 667.00,342.00 667.50,342.32 668.00,342.59 668.50,342.82 669.00,343.01 669.50,343.17 670.00,343.30 670.50,343.41 671.00,343.51 671.50,343.58 672.00,343.65 672.00,343.90" fill="#0b0f55"/>
<line x1="540.50" y1="344.00" x2="689.50" y2="344.00" stroke="#b8b8e0" stroke-width="1.0"/>
<polygon points="643.00,363.60 643.00,363.56 643.50,363.52 644.00,363.45 644.50,363.33 645.00,363.13 645.50,362.82 646.00,362.34 646.50,361.63 647.00,360.61 647.50,359.20 648.00,357.34 648.50,354.97 649.00,352.07 649.50,348.68 650.00,344.90 650.50,340.89 651.00,336.89 651.50,333.17 652.00,330.01 652.50,327.69 653.00,326.41 653.50,326.23 654.00,326.56 654.50,327.20 655.00,328.12 655.50,329.28 656.00,330.66 656.50,332.21 657.00,333.91 657.50,335.72 658.00,337.60 658.50,339.53 659.00,341.47 659.50,343.39 660.00,345.27 660.50,347.09 661.00,348.83 661.50,350.47 662.00,352.01 662.50,353.44 663.00,354.74 663.50,355.94 664.00,357.01 664.50,357.97 665.00,358.82 665.50,359.57 666.00,360.22 666.50,360.79 667.00,361.27 667.50,361.68 668.00,362.04 668.00,363.60" fill="#ff8000"/>
<line x1="540.00" y1="364.00" x2="690.00" y2="364.00" stroke="#000" stroke-width="1.2"/>
<line x1="540.50" y1="364.00" x2="540.50" y2="365.50" stroke="#000" stroke-width="1.0"/>
<line x1="546.41" y1="364.00" x2="546.41" y2="365.60" stroke="#000" stroke-width="0.8"/>
<line x1="549.81" y1="364.00" x2="549.81" y2="365.60" stroke="#000" stroke-width="0.8"/>
<line x1="552.22" y1="364.00" x2="552.22" y2="365.60" stroke="#000" stroke-width="0.8"/>
<line x1="554.09" y1="364.00" x2="554.09" y2="365.60" stroke="#000" stroke-width="0.8"/>
<line x1="555.62" y1="364.00" x2="555.62" y2="365.60" stroke="#000" stroke-width="0.8"/>
<line x1="556.91" y1="364.00" x2="556.91" y2="365.60" stroke="#000" stroke-width="0.8"/>
<line x1="558.03" y1="364.00" x2="558.03" y2="365.60" stroke="#000" stroke-width="0.8"/>
<line x1="559.02" y1="364.00" x2="559.02" y2="365.60" stroke="#000" stroke-width="0.8"/>
<line x1="565.71" y1="364.00" x2="565.71" y2="365.60" stroke="#000" stroke-width="0.8"/>
<line x1="569.11" y1="364.00" x2="569.11" y2="365.60" stroke="#000" stroke-width="0.8"/>
<line x1="571.52" y1="364.00" x2="571.52" y2="365.60" stroke="#000" stroke-width="0.8"/>
<line x1="573.39" y1="364.00" x2="573.39" y2="365.60" stroke="#000" stroke-width="0.8"/>
<line x1="574.92" y1="364.00" x2="574.92" y2="365.60" stroke="#000" stroke-width="0.8"/>
<line x1="576.21" y1="364.00" x2="576.21" y2="365.60" stroke="#000" stroke-width="0.8"/>
<line x1="577.33" y1="364.00" x2="577.33" y2="365.60" stroke="#000" stroke-width="0.8"/>
<line x1="578.32" y1="364.00" x2="578.32" y2="365.60" stroke="#000" stroke-width="0.8"/>
<line x1="585.01" y1="364.00" x2="585.01" y2="365.60" stroke="#000" stroke-width="0.8"/>
<line x1="588.41" y1="364.00" x2="588.41" y2="365.60" stroke="#000" stroke-width="0.8"/>
<line x1="590.82" y1="364.00" x2="590.82" y2="365.60" stroke="#000" stroke-width="0.8"/>
<line x1="592.69" y1="364.00" x2="592.69" y2="365.60" stroke="#000" stroke-width="0.8"/>
<line x1="594.22" y1="364.00" x2="594.22" y2="365.60" stroke="#000" stroke-width="0.8"/>
<line x1="595.51" y1="364.00" x2="595.51" y2="365.60" stroke="#000" stroke-width="0.8"/>
<line x1="596.63" y1="364.00" x2="596.63" y2="365.60" stroke="#000" stroke-width="0.8"/>
<line x1="597.62" y1="364.00" x2="597.62" y2="365.60" stroke="#000" stroke-width="0.8"/>
<line x1="604.31" y1="364.00" x2="604.31" y2="365.60" stroke="#000" stroke-width="0.8"/>
<line x1="607.71" y1="364.00" x2="607.71" y2="365.60" stroke="#000" stroke-width="0.8"/>
<line x1="610.12" y1="364.00" x2="610.12" y2="365.60" stroke="#000" stroke-width="0.8"/>
<line x1="611.99" y1="364.00" x2="611.99" y2="365.60" stroke="#000" stroke-width="0.8"/>
<line x1="613.52" y1="364.00" x2="613.52" y2="365.60" stroke="#000" stroke-width="0.8"/>
<line x1="614.81" y1="364.00" x2="614.81" y2="365.60" stroke="#000" stroke-width="0.8"/>
<line x1="615.93" y1="364.00" x2="615.93" y2="365.60" stroke="#000" stroke-width="0.8"/>
<line x1="616.92" y1="364.00" x2="616.92" y2="365.60" stroke="#000" stroke-width="0.8"/>
<line x1="623.61" y1="364.00" x2="623.61" y2="365.60" stroke="#000" stroke-width="0.8"/>
<line x1="627.01" y1="364.00" x2="627.01" y2="365.60" stroke="#000" stroke-width="0.8"/>
<line x1="629.42" y1="364.00" x2="629.42" y2="365.60" stroke="#000" stroke-width="0.8"/>
<line x1="631.29" y1="364.00" x2="631.29" y2="365.60" stroke="#000" stroke-width="0.8"/>
<line x1="632.82" y1="364.00" x2="632.82" y2="365.60" stroke="#000" stroke-width="0.8"/>
<line x1="634.11" y1="364.00" x2="634.11" y2="365.60" stroke="#000" stroke-width="0.8"/>
<line x1="635.23" y1="364.00" x2="635.23" y2="365.60" stroke="#000" stroke-width="0.8"/>
<line x1="636.22" y1="364.00" x2="636.22" y2="365.60" stroke="#000" stroke-width="0.8"/>
<line x1="642.91" y1="364.00" x2="642.91" y2="365.60" stroke="#000" stroke-width="0.8"/>
<line x1="646.31" y1="364.00" x2="646.31" y2="365.60" stroke="#000" stroke-width="0.8"/>
<line x1="648.72" y1="364.00" x2="648.72" y2="365.60" stroke="#000" stroke-width="0.8"/>
<line x1="650.59" y1="364.00" x2="650.59" y2="365.60" stroke="#000" stroke-width="0.8"/>
<line x1="652.12" y1="364.00" x2="652.12" y2="365.60" stroke="#000" stroke-width="0.8"/>
<line x1="653.41" y1="364.00" x2="653.41" y2="365.60" stroke="#000" stroke-width="0.8"/>
<line x1="654.53" y1="364.00" x2="654.53" y2="365.60" stroke="#000" stroke-width="0.8"/>
<line x1="655.52" y1="364.00" x2="655.52" y2="365.60" stroke="#000" stroke-width="0.8"/>
<line x1="662.21" y1="364.00" x2="662.21" y2="365.60" stroke="#000" stroke-width="0.8"/>
<line x1="665.61" y1="364.00" x2="665.61" y2="365.60" stroke="#000" stroke-width="0.8"/>
<line x1="668.02" y1="364.00" x2="668.02" y2="365.60" stroke="#000" stroke-width="0.8"/>
<line x1="669.89" y1="364.00" x2="669.89" y2="365.60" stroke="#000" stroke-width="0.8"/>
<line x1="671.42" y1="364.00" x2="671.42" y2="365.60" stroke="#000" stroke-width="0.8"/>
<line x1="672.71" y1="364.00" x2="672.71" y2="365.60" stroke="#000" stroke-width="0.8"/>
<line x1="673.83" y1="364.00" x2="673.83" y2="365.60" stroke="#000" stroke-width="0.8"/>
<line x1="674.82" y1="364.00" x2="674.82" y2="365.60" stroke="#000" stroke-width="0.8"/>
<line x1="681.51" y1="364.00" x2="681.51" y2="365.60" stroke="#000" stroke-width="0.8"/>
<line x1="684.91" y1="364.00" x2="684.91" y2="365.60" stroke="#000" stroke-width="0.8"/>
<line x1="540.60" y1="364.00" x2="540.60" y2="366.40" stroke="#000" stroke-width="1.1"/>
<line x1="559.90" y1="364.00" x2="559.90" y2="366.40" stroke="#000" stroke-width="1.1"/>
<line x1="579.20" y1="364.00" x2="579.20" y2="366.40" stroke="#000" stroke-width="1.1"/>
<line x1="598.50" y1="364.00" x2="598.50" y2="366.40" stroke="#000" stroke-width="1.1"/>
<line x1="617.80" y1="364.00" x2="617.80" y2="366.40" stroke="#000" stroke-width="1.1"/>
<line x1="637.10" y1="364.00" x2="637.10" y2="366.40" stroke="#000" stroke-width="1.1"/>
<line x1="656.40" y1="364.00" x2="656.40" y2="366.40" stroke="#000" stroke-width="1.1"/>
<line x1="675.70" y1="364.00" x2="675.70" y2="366.40" stroke="#000" stroke-width="1.1"/>
<text x="547.50" y="374.50" font-size="5.2" fill="#333" text-anchor="middle">10<tspan dy="-2.34" font-size="4.16">1</tspan></text>
<text x="580.00" y="374.50" font-size="5.2" fill="#333" text-anchor="middle">10<tspan dy="-2.34" font-size="4.16">3</tspan></text>
<text x="618.20" y="374.50" font-size="5.2" fill="#333" text-anchor="middle">10<tspan dy="-2.34" font-size="4.16">5</tspan></text>
<text x="656.50" y="374.50" font-size="5.2" fill="#333" text-anchor="middle">10<tspan dy="-2.34" font-size="4.16">7</tspan></text>
<rect x="544.10" y="310.60" width="7.90" height="7.35" fill="#b5b5b5" stroke="none" stroke-width="0"/>
<text x="558.40" y="318.70" font-size="11.2" fill="#808080">NC-NC</text>
<rect x="544.10" y="323.50" width="7.90" height="7.35" fill="#abd4f6" stroke="none" stroke-width="0"/>
<text x="558.40" y="331.60" font-size="11.2" fill="#808080">NC-Fe<tspan font-size="6.94" dy="-4.6">2+</tspan></text>
<rect x="544.10" y="336.40" width="7.90" height="7.35" fill="#0f2a55" stroke="none" stroke-width="0"/>
<text x="558.40" y="344.50" font-size="11.2" fill="#808080">TRIB3-1-Fe<tspan font-size="6.94" dy="-4.6">2+</tspan></text>
<rect x="544.10" y="349.30" width="7.90" height="7.35" fill="#ff8000" stroke="none" stroke-width="0"/>
<text x="558.40" y="357.40" font-size="11.2" fill="#808080">TRIB3-2-Fe<tspan font-size="6.94" dy="-4.6">2+</tspan></text>
<text x="603.10" y="252.60" font-size="14.6" fill="#636363" textLength="26.0" lengthAdjust="spacingAndGlyphs">PC3</text>
<rect x="499.70" y="656.50" width="159.30" height="118.80" fill="#fff" stroke="#999" stroke-width="1"/>
<line x1="499.75" y1="656.00" x2="499.75" y2="775.80" stroke="#555" stroke-width="1.1"/>
<polygon points="500.50,715.90 500.50,713.70 501.00,713.61 501.50,713.52 502.00,713.42 502.50,713.32 503.00,713.22 503.50,713.12 504.00,713.01 504.50,712.90 505.00,712.79 505.50,712.67 506.00,712.56 506.50,712.44 507.00,712.32 507.50,712.19 508.00,712.06 508.50,711.93 509.00,711.80 509.50,711.67 510.00,711.53 510.50,711.39 511.00,711.25 511.50,711.10 512.00,710.95 512.50,710.80 513.00,710.64 513.50,710.48 514.00,710.32 514.50,710.15 515.00,709.97 515.50,709.78 516.00,709.59 516.50,709.39 517.00,709.17 517.50,708.94 518.00,708.69 518.50,708.43 519.00,708.14 519.50,707.83 520.00,707.50 520.50,707.13 521.00,706.72 521.50,706.27 522.00,705.78 522.50,705.24 523.00,704.64 523.50,703.98 524.00,703.26 524.50,702.47 525.00,701.60 525.50,700.65 526.00,699.62 526.50,698.50 527.00,697.30 527.50,696.01 528.00,694.62 528.50,693.15 529.00,691.60 529.50,689.96 530.00,688.26 530.50,686.48 531.00,684.66 531.50,682.79 532.00,680.89 532.50,678.97 533.00,677.06 533.50,675.16 534.00,673.31 534.50,671.51 535.00,669.79 535.50,668.16 536.00,666.65 536.50,665.27 537.00,664.05 537.50,662.99 538.00,662.11 538.50,661.43 539.00,660.94 539.50,660.67 540.00,660.60 540.50,660.78 541.00,661.24 541.50,662.00 542.00,663.05 542.50,664.38 543.00,665.99 543.50,667.84 544.00,669.92 544.50,672.18 545.00,674.60 545.50,677.13 546.00,679.75 546.50,682.41 547.00,685.08 547.50,687.73 548.00,690.32 548.50,692.83 549.00,695.24 549.50,697.52 550.00,699.66 550.50,701.65 551.00,703.49 551.50,705.16 552.00,706.67 552.50,708.03 553.00,709.23 553.50,710.29 554.00,711.22 554.50,712.02 555.00,712.71 555.50,713.29 556.00,713.78 556.50,714.19 557.00,714.54 557.50,714.82 558.00,715.05 558.50,715.23 559.00,715.38 559.50,715.50 560.00,715.59 560.50,715.67 561.00,715.73 561.50,715.77 562.00,715.80 562.00,715.90" fill="#b5b5b5"/>
<line x1="499.70" y1="715.90" x2="659.00" y2="715.90" stroke="#cfcfcf" stroke-width="1.0"/>
<polygon points="608.00,746.20 608.00,746.20 608.50,746.20 609.00,746.20 609.50,746.20 610.00,746.19 610.50,746.19 611.00,746.19 611.50,746.18 612.00,746.16 612.50,746.13 613.00,746.10 613.50,746.04 614.00,745.95 614.50,745.83 615.00,745.64 615.50,745.39 616.00,745.03 616.50,744.55 617.00,743.91 617.50,743.07 618.00,741.99 618.50,740.63 619.00,738.95 619.50,736.91 620.00,734.50 620.50,731.70 621.00,728.53 621.50,725.00 622.00,721.19 622.50,717.17 623.00,713.05 623.50,708.96 624.00,705.05 624.50,701.46 625.00,698.36 625.50,695.87 626.00,694.10 626.50,693.16 627.00,693.04 627.50,693.46 628.00,694.28 628.50,695.45 629.00,696.93 629.50,698.68 630.00,700.66 630.50,702.82 631.00,705.13 631.50,707.53 632.00,710.00 632.50,712.48 633.00,714.94 633.50,717.36 634.00,719.70 634.50,721.95 635.00,724.09 635.50,726.11 636.00,727.99 636.50,729.74 637.00,731.34 637.50,732.82 638.00,734.16 638.50,735.37 639.00,736.46 639.50,737.44 640.00,738.32 640.50,739.11 641.00,739.81 641.50,740.43 642.00,740.99 642.50,741.49 643.00,741.93 643.50,742.33 644.00,742.69 644.50,743.01 645.00,743.30 645.50,743.56 646.00,743.80 646.50,744.02 647.00,744.21 647.50,744.39 648.00,744.56 648.50,744.71 649.00,744.84 649.50,744.97 650.00,745.09 650.00,746.20" fill="#0b0f55"/>
<line x1="499.70" y1="746.10" x2="659.00" y2="746.10" stroke="#8c8cc8" stroke-width="1.0"/>
<polygon points="604.00,775.60 604.00,775.60 604.50,775.60 605.00,775.60 605.50,775.59 606.00,775.59 606.50,775.58 607.00,775.56 607.50,775.52 608.00,775.46 608.50,775.36 609.00,775.20 609.50,774.94 610.00,774.54 610.50,773.95 611.00,773.08 611.50,771.87 612.00,770.22 612.50,768.04 613.00,765.27 613.50,761.84 614.00,757.77 614.50,753.10 615.00,747.95 615.50,742.52 616.00,737.08 616.50,731.92 617.00,727.38 617.50,723.77 618.00,721.35 618.50,720.33 619.00,720.52 619.50,721.31 620.00,722.60 620.50,724.33 621.00,726.42 621.50,728.79 622.00,731.39 622.50,734.13 623.00,736.94 623.50,739.77 624.00,742.56 624.50,745.25 625.00,747.83 625.50,750.25 626.00,752.51 626.50,754.58 627.00,756.48 627.50,758.19 628.00,759.74 628.50,761.13 629.00,762.37 629.50,763.48 630.00,764.47 630.50,765.36 631.00,766.16 631.50,766.89 632.00,767.54 632.50,768.14 633.00,768.69 633.50,769.20 634.00,769.67 634.50,770.11 635.00,770.51 635.50,770.90 636.00,771.25 636.50,771.59 637.00,771.91 637.50,772.20 638.00,772.48 638.50,772.74 639.00,772.98 639.50,773.21 640.00,773.42 640.50,773.61 641.00,773.80 641.50,773.96 642.00,774.12 642.50,774.26 643.00,774.39 643.00,775.60" fill="#ff8000"/>
<line x1="499.20" y1="775.80" x2="659.50" y2="775.80" stroke="#000" stroke-width="1.2"/>
<line x1="499.70" y1="775.80" x2="499.70" y2="777.30" stroke="#000" stroke-width="1.0"/>
<line x1="506.92" y1="775.80" x2="506.92" y2="777.40" stroke="#000" stroke-width="0.8"/>
<line x1="510.97" y1="775.80" x2="510.97" y2="777.40" stroke="#000" stroke-width="0.8"/>
<line x1="513.85" y1="775.80" x2="513.85" y2="777.40" stroke="#000" stroke-width="0.8"/>
<line x1="516.08" y1="775.80" x2="516.08" y2="777.40" stroke="#000" stroke-width="0.8"/>
<line x1="517.90" y1="775.80" x2="517.90" y2="777.40" stroke="#000" stroke-width="0.8"/>
<line x1="519.44" y1="775.80" x2="519.44" y2="777.40" stroke="#000" stroke-width="0.8"/>
<line x1="520.77" y1="775.80" x2="520.77" y2="777.40" stroke="#000" stroke-width="0.8"/>
<line x1="521.95" y1="775.80" x2="521.95" y2="777.40" stroke="#000" stroke-width="0.8"/>
<line x1="529.92" y1="775.80" x2="529.92" y2="777.40" stroke="#000" stroke-width="0.8"/>
<line x1="533.97" y1="775.80" x2="533.97" y2="777.40" stroke="#000" stroke-width="0.8"/>
<line x1="536.85" y1="775.80" x2="536.85" y2="777.40" stroke="#000" stroke-width="0.8"/>
<line x1="539.08" y1="775.80" x2="539.08" y2="777.40" stroke="#000" stroke-width="0.8"/>
<line x1="540.90" y1="775.80" x2="540.90" y2="777.40" stroke="#000" stroke-width="0.8"/>
<line x1="542.44" y1="775.80" x2="542.44" y2="777.40" stroke="#000" stroke-width="0.8"/>
<line x1="543.77" y1="775.80" x2="543.77" y2="777.40" stroke="#000" stroke-width="0.8"/>
<line x1="544.95" y1="775.80" x2="544.95" y2="777.40" stroke="#000" stroke-width="0.8"/>
<line x1="552.92" y1="775.80" x2="552.92" y2="777.40" stroke="#000" stroke-width="0.8"/>
<line x1="556.97" y1="775.80" x2="556.97" y2="777.40" stroke="#000" stroke-width="0.8"/>
<line x1="559.85" y1="775.80" x2="559.85" y2="777.40" stroke="#000" stroke-width="0.8"/>
<line x1="562.08" y1="775.80" x2="562.08" y2="777.40" stroke="#000" stroke-width="0.8"/>
<line x1="563.90" y1="775.80" x2="563.90" y2="777.40" stroke="#000" stroke-width="0.8"/>
<line x1="565.44" y1="775.80" x2="565.44" y2="777.40" stroke="#000" stroke-width="0.8"/>
<line x1="566.77" y1="775.80" x2="566.77" y2="777.40" stroke="#000" stroke-width="0.8"/>
<line x1="567.95" y1="775.80" x2="567.95" y2="777.40" stroke="#000" stroke-width="0.8"/>
<line x1="575.92" y1="775.80" x2="575.92" y2="777.40" stroke="#000" stroke-width="0.8"/>
<line x1="579.97" y1="775.80" x2="579.97" y2="777.40" stroke="#000" stroke-width="0.8"/>
<line x1="582.85" y1="775.80" x2="582.85" y2="777.40" stroke="#000" stroke-width="0.8"/>
<line x1="585.08" y1="775.80" x2="585.08" y2="777.40" stroke="#000" stroke-width="0.8"/>
<line x1="586.90" y1="775.80" x2="586.90" y2="777.40" stroke="#000" stroke-width="0.8"/>
<line x1="588.44" y1="775.80" x2="588.44" y2="777.40" stroke="#000" stroke-width="0.8"/>
<line x1="589.77" y1="775.80" x2="589.77" y2="777.40" stroke="#000" stroke-width="0.8"/>
<line x1="590.95" y1="775.80" x2="590.95" y2="777.40" stroke="#000" stroke-width="0.8"/>
<line x1="598.92" y1="775.80" x2="598.92" y2="777.40" stroke="#000" stroke-width="0.8"/>
<line x1="602.97" y1="775.80" x2="602.97" y2="777.40" stroke="#000" stroke-width="0.8"/>
<line x1="605.85" y1="775.80" x2="605.85" y2="777.40" stroke="#000" stroke-width="0.8"/>
<line x1="608.08" y1="775.80" x2="608.08" y2="777.40" stroke="#000" stroke-width="0.8"/>
<line x1="609.90" y1="775.80" x2="609.90" y2="777.40" stroke="#000" stroke-width="0.8"/>
<line x1="611.44" y1="775.80" x2="611.44" y2="777.40" stroke="#000" stroke-width="0.8"/>
<line x1="612.77" y1="775.80" x2="612.77" y2="777.40" stroke="#000" stroke-width="0.8"/>
<line x1="613.95" y1="775.80" x2="613.95" y2="777.40" stroke="#000" stroke-width="0.8"/>
<line x1="621.92" y1="775.80" x2="621.92" y2="777.40" stroke="#000" stroke-width="0.8"/>
<line x1="625.97" y1="775.80" x2="625.97" y2="777.40" stroke="#000" stroke-width="0.8"/>
<line x1="628.85" y1="775.80" x2="628.85" y2="777.40" stroke="#000" stroke-width="0.8"/>
<line x1="631.08" y1="775.80" x2="631.08" y2="777.40" stroke="#000" stroke-width="0.8"/>
<line x1="632.90" y1="775.80" x2="632.90" y2="777.40" stroke="#000" stroke-width="0.8"/>
<line x1="634.44" y1="775.80" x2="634.44" y2="777.40" stroke="#000" stroke-width="0.8"/>
<line x1="635.77" y1="775.80" x2="635.77" y2="777.40" stroke="#000" stroke-width="0.8"/>
<line x1="636.95" y1="775.80" x2="636.95" y2="777.40" stroke="#000" stroke-width="0.8"/>
<line x1="644.92" y1="775.80" x2="644.92" y2="777.40" stroke="#000" stroke-width="0.8"/>
<line x1="648.97" y1="775.80" x2="648.97" y2="777.40" stroke="#000" stroke-width="0.8"/>
<line x1="651.85" y1="775.80" x2="651.85" y2="777.40" stroke="#000" stroke-width="0.8"/>
<line x1="654.08" y1="775.80" x2="654.08" y2="777.40" stroke="#000" stroke-width="0.8"/>
<line x1="655.90" y1="775.80" x2="655.90" y2="777.40" stroke="#000" stroke-width="0.8"/>
<line x1="657.44" y1="775.80" x2="657.44" y2="777.40" stroke="#000" stroke-width="0.8"/>
<line x1="658.77" y1="775.80" x2="658.77" y2="777.40" stroke="#000" stroke-width="0.8"/>
<line x1="500.00" y1="775.80" x2="500.00" y2="778.20" stroke="#000" stroke-width="1.1"/>
<line x1="523.00" y1="775.80" x2="523.00" y2="778.20" stroke="#000" stroke-width="1.1"/>
<line x1="546.00" y1="775.80" x2="546.00" y2="778.20" stroke="#000" stroke-width="1.1"/>
<line x1="569.00" y1="775.80" x2="569.00" y2="778.20" stroke="#000" stroke-width="1.1"/>
<line x1="592.00" y1="775.80" x2="592.00" y2="778.20" stroke="#000" stroke-width="1.1"/>
<line x1="615.00" y1="775.80" x2="615.00" y2="778.20" stroke="#000" stroke-width="1.1"/>
<line x1="638.00" y1="775.80" x2="638.00" y2="778.20" stroke="#000" stroke-width="1.1"/>
<text x="508.00" y="788.80" font-size="6.8" fill="#333" text-anchor="middle">10<tspan dy="-3.06" font-size="5.44">1</tspan></text>
<text x="550.00" y="788.80" font-size="6.8" fill="#333" text-anchor="middle">10<tspan dy="-3.06" font-size="5.44">3</tspan></text>
<text x="600.00" y="788.80" font-size="6.8" fill="#333" text-anchor="middle">10<tspan dy="-3.06" font-size="5.44">5</tspan></text>
<text x="648.00" y="788.80" font-size="6.8" fill="#333" text-anchor="middle">10<tspan dy="-3.06" font-size="5.44">7</tspan></text>
<rect x="507.00" y="736.60" width="7.20" height="6.70" fill="#b5b5b5" stroke="none" stroke-width="0"/>
<text x="517.60" y="743.00" font-size="11.2" fill="#808080">NC-NC</text>
<rect x="507.00" y="749.00" width="7.20" height="6.70" fill="#0f2a55" stroke="none" stroke-width="0"/>
<text x="517.60" y="755.80" font-size="11.2" fill="#808080">Vector-Fe2+</text>
<rect x="507.00" y="761.40" width="7.20" height="6.70" fill="#ff8000" stroke="none" stroke-width="0"/>
<text x="517.60" y="768.30" font-size="11.2" fill="#808080">TRIB3-Fe2+</text>
<text x="518.60" y="650.00" font-size="14.2" fill="#636363" textLength="125.3" lengthAdjust="spacingAndGlyphs">LNCaP (Pal-treated)</text>
<rect x="501.00" y="850.50" width="160.20" height="119.20" fill="#fff" stroke="#999" stroke-width="1"/>
<line x1="501.05" y1="850.00" x2="501.05" y2="970.20" stroke="#555" stroke-width="1.1"/>
<polygon points="502.00,910.10 502.00,909.54 502.50,909.51 503.00,909.47 503.50,909.43 504.00,909.39 504.50,909.34 505.00,909.30 505.50,909.25 506.00,909.20 506.50,909.15 507.00,909.09 507.50,909.03 508.00,908.97 508.50,908.91 509.00,908.85 509.50,908.78 510.00,908.71 510.50,908.64 511.00,908.57 511.50,908.49 512.00,908.41 512.50,908.33 513.00,908.25 513.50,908.16 514.00,908.07 514.50,907.97 515.00,907.87 515.50,907.77 516.00,907.66 516.50,907.55 517.00,907.43 517.50,907.31 518.00,907.17 518.50,907.03 519.00,906.88 519.50,906.71 520.00,906.53 520.50,906.33 521.00,906.11 521.50,905.86 522.00,905.59 522.50,905.28 523.00,904.93 523.50,904.54 524.00,904.11 524.50,903.61 525.00,903.06 525.50,902.43 526.00,901.73 526.50,900.94 527.00,900.06 527.50,899.09 528.00,898.01 528.50,896.83 529.00,895.53 529.50,894.11 530.00,892.58 530.50,890.94 531.00,889.18 531.50,887.31 532.00,885.34 532.50,883.28 533.00,881.15 533.50,878.95 534.00,876.71 534.50,874.45 535.00,872.18 535.50,869.94 536.00,867.75 536.50,865.64 537.00,863.63 537.50,861.75 538.00,860.02 538.50,858.48 539.00,857.14 539.50,856.03 540.00,855.16 540.50,854.54 541.00,854.19 541.50,854.11 542.00,854.34 542.50,854.91 543.00,855.79 543.50,856.99 544.00,858.46 544.50,860.20 545.00,862.17 545.50,864.33 546.00,866.66 546.50,869.11 547.00,871.66 547.50,874.27 548.00,876.90 548.50,879.52 549.00,882.10 549.50,884.62 550.00,887.05 550.50,889.37 551.00,891.57 551.50,893.64 552.00,895.56 552.50,897.33 553.00,898.96 553.50,900.44 554.00,901.77 554.50,902.96 555.00,904.02 555.50,904.95 556.00,905.76 556.50,906.47 557.00,907.08 557.50,907.60 558.00,908.05 558.50,908.42 559.00,908.74 559.50,909.00 560.00,909.22 560.50,909.40 561.00,909.54 561.50,909.66 562.00,909.76 562.50,909.83 563.00,909.89 563.50,909.94 564.00,909.98 564.50,910.01 565.00,910.03 565.50,910.05 566.00,910.06 566.00,910.10" fill="#b5b5b5"/>
<line x1="501.00" y1="910.10" x2="661.20" y2="910.10" stroke="#cfcfcf" stroke-width="1.0"/>
<polygon points="609.00,940.40 609.00,940.12 609.50,939.95 610.00,939.69 610.50,939.31 611.00,938.75 611.50,937.97 612.00,936.89 612.50,935.45 613.00,933.57 613.50,931.19 614.00,928.27 614.50,924.78 615.00,920.73 615.50,916.20 616.00,911.30 616.50,906.19 617.00,901.08 617.50,896.24 618.00,891.91 618.50,888.37 619.00,885.82 619.50,884.43 620.00,884.27 620.50,884.95 621.00,886.27 621.50,888.13 622.00,890.45 622.50,893.14 623.00,896.10 623.50,899.24 624.00,902.48 624.50,905.73 625.00,908.92 625.50,912.00 626.00,914.92 626.50,917.65 627.00,920.17 627.50,922.45 628.00,924.52 628.50,926.36 629.00,927.99 629.50,929.43 630.00,930.69 630.50,931.79 631.00,932.75 631.50,933.59 632.00,934.32 632.50,934.97 633.00,935.53 633.50,936.04 634.00,936.48 634.50,936.88 635.00,937.24 635.50,937.56 636.00,937.85 636.50,938.12 637.00,938.36 637.50,938.57 638.00,938.77 638.50,938.95 639.00,939.11 639.50,939.26 640.00,939.39 640.00,940.40" fill="#0b0f55"/>
<line x1="501.00" y1="940.50" x2="661.20" y2="940.50" stroke="#8c8cc8" stroke-width="1.0"/>
<polygon points="598.00,970.00 598.00,970.00 598.50,970.00 599.00,970.00 599.50,970.00 600.00,970.00 600.50,970.00 601.00,970.00 601.50,970.00 602.00,969.99 602.50,969.95 603.00,969.87 603.50,969.66 604.00,969.21 604.50,968.31 605.00,966.70 605.50,964.11 606.00,960.29 606.50,955.18 607.00,948.96 607.50,942.04 608.00,935.05 608.50,928.68 609.00,923.50 609.50,919.84 610.00,917.75 610.50,916.97 611.00,916.92 611.50,917.21 612.00,917.90 612.50,919.02 613.00,920.57 613.50,922.52 614.00,924.83 614.50,927.45 615.00,930.30 615.50,933.31 616.00,936.40 616.50,939.49 617.00,942.52 617.50,945.43 618.00,948.17 618.50,950.70 619.00,953.01 619.50,955.09 620.00,956.93 620.50,958.55 621.00,959.96 621.50,961.18 622.00,962.24 622.50,963.15 623.00,963.94 623.50,964.63 624.00,965.23 624.50,965.76 625.00,966.23 625.50,966.64 626.00,967.02 626.50,967.35 627.00,967.66 627.50,967.93 628.00,968.18 628.50,968.41 629.00,968.61 629.50,968.79 630.00,968.95 630.50,969.10 631.00,969.22 631.00,970.00" fill="#ff8000"/>
<line x1="500.50" y1="970.20" x2="661.70" y2="970.20" stroke="#000" stroke-width="1.2"/>
<line x1="501.00" y1="970.20" x2="501.00" y2="971.70" stroke="#000" stroke-width="1.0"/>
<line x1="507.12" y1="970.20" x2="507.12" y2="971.80" stroke="#000" stroke-width="0.8"/>
<line x1="510.82" y1="970.20" x2="510.82" y2="971.80" stroke="#000" stroke-width="0.8"/>
<line x1="513.44" y1="970.20" x2="513.44" y2="971.80" stroke="#000" stroke-width="0.8"/>
<line x1="515.48" y1="970.20" x2="515.48" y2="971.80" stroke="#000" stroke-width="0.8"/>
<line x1="517.14" y1="970.20" x2="517.14" y2="971.80" stroke="#000" stroke-width="0.8"/>
<line x1="518.55" y1="970.20" x2="518.55" y2="971.80" stroke="#000" stroke-width="0.8"/>
<line x1="519.76" y1="970.20" x2="519.76" y2="971.80" stroke="#000" stroke-width="0.8"/>
<line x1="520.84" y1="970.20" x2="520.84" y2="971.80" stroke="#000" stroke-width="0.8"/>
<line x1="528.12" y1="970.20" x2="528.12" y2="971.80" stroke="#000" stroke-width="0.8"/>
<line x1="531.82" y1="970.20" x2="531.82" y2="971.80" stroke="#000" stroke-width="0.8"/>
<line x1="534.44" y1="970.20" x2="534.44" y2="971.80" stroke="#000" stroke-width="0.8"/>
<line x1="536.48" y1="970.20" x2="536.48" y2="971.80" stroke="#000" stroke-width="0.8"/>
<line x1="538.14" y1="970.20" x2="538.14" y2="971.80" stroke="#000" stroke-width="0.8"/>
<line x1="539.55" y1="970.20" x2="539.55" y2="971.80" stroke="#000" stroke-width="0.8"/>
<line x1="540.76" y1="970.20" x2="540.76" y2="971.80" stroke="#000" stroke-width="0.8"/>
<line x1="541.84" y1="970.20" x2="541.84" y2="971.80" stroke="#000" stroke-width="0.8"/>
<line x1="549.12" y1="970.20" x2="549.12" y2="971.80" stroke="#000" stroke-width="0.8"/>
<line x1="552.82" y1="970.20" x2="552.82" y2="971.80" stroke="#000" stroke-width="0.8"/>
<line x1="555.44" y1="970.20" x2="555.44" y2="971.80" stroke="#000" stroke-width="0.8"/>
<line x1="557.48" y1="970.20" x2="557.48" y2="971.80" stroke="#000" stroke-width="0.8"/>
<line x1="559.14" y1="970.20" x2="559.14" y2="971.80" stroke="#000" stroke-width="0.8"/>
<line x1="560.55" y1="970.20" x2="560.55" y2="971.80" stroke="#000" stroke-width="0.8"/>
<line x1="561.76" y1="970.20" x2="561.76" y2="971.80" stroke="#000" stroke-width="0.8"/>
<line x1="562.84" y1="970.20" x2="562.84" y2="971.80" stroke="#000" stroke-width="0.8"/>
<line x1="570.12" y1="970.20" x2="570.12" y2="971.80" stroke="#000" stroke-width="0.8"/>
<line x1="573.82" y1="970.20" x2="573.82" y2="971.80" stroke="#000" stroke-width="0.8"/>
<line x1="576.44" y1="970.20" x2="576.44" y2="971.80" stroke="#000" stroke-width="0.8"/>
<line x1="578.48" y1="970.20" x2="578.48" y2="971.80" stroke="#000" stroke-width="0.8"/>
<line x1="580.14" y1="970.20" x2="580.14" y2="971.80" stroke="#000" stroke-width="0.8"/>
<line x1="581.55" y1="970.20" x2="581.55" y2="971.80" stroke="#000" stroke-width="0.8"/>
<line x1="582.76" y1="970.20" x2="582.76" y2="971.80" stroke="#000" stroke-width="0.8"/>
<line x1="583.84" y1="970.20" x2="583.84" y2="971.80" stroke="#000" stroke-width="0.8"/>
<line x1="591.12" y1="970.20" x2="591.12" y2="971.80" stroke="#000" stroke-width="0.8"/>
<line x1="594.82" y1="970.20" x2="594.82" y2="971.80" stroke="#000" stroke-width="0.8"/>
<line x1="597.44" y1="970.20" x2="597.44" y2="971.80" stroke="#000" stroke-width="0.8"/>
<line x1="599.48" y1="970.20" x2="599.48" y2="971.80" stroke="#000" stroke-width="0.8"/>
<line x1="601.14" y1="970.20" x2="601.14" y2="971.80" stroke="#000" stroke-width="0.8"/>
<line x1="602.55" y1="970.20" x2="602.55" y2="971.80" stroke="#000" stroke-width="0.8"/>
<line x1="603.76" y1="970.20" x2="603.76" y2="971.80" stroke="#000" stroke-width="0.8"/>
<line x1="604.84" y1="970.20" x2="604.84" y2="971.80" stroke="#000" stroke-width="0.8"/>
<line x1="612.12" y1="970.20" x2="612.12" y2="971.80" stroke="#000" stroke-width="0.8"/>
<line x1="615.82" y1="970.20" x2="615.82" y2="971.80" stroke="#000" stroke-width="0.8"/>
<line x1="618.44" y1="970.20" x2="618.44" y2="971.80" stroke="#000" stroke-width="0.8"/>
<line x1="620.48" y1="970.20" x2="620.48" y2="971.80" stroke="#000" stroke-width="0.8"/>
<line x1="622.14" y1="970.20" x2="622.14" y2="971.80" stroke="#000" stroke-width="0.8"/>
<line x1="623.55" y1="970.20" x2="623.55" y2="971.80" stroke="#000" stroke-width="0.8"/>
<line x1="624.76" y1="970.20" x2="624.76" y2="971.80" stroke="#000" stroke-width="0.8"/>
<line x1="625.84" y1="970.20" x2="625.84" y2="971.80" stroke="#000" stroke-width="0.8"/>
<line x1="633.12" y1="970.20" x2="633.12" y2="971.80" stroke="#000" stroke-width="0.8"/>
<line x1="636.82" y1="970.20" x2="636.82" y2="971.80" stroke="#000" stroke-width="0.8"/>
<line x1="639.44" y1="970.20" x2="639.44" y2="971.80" stroke="#000" stroke-width="0.8"/>
<line x1="641.48" y1="970.20" x2="641.48" y2="971.80" stroke="#000" stroke-width="0.8"/>
<line x1="643.14" y1="970.20" x2="643.14" y2="971.80" stroke="#000" stroke-width="0.8"/>
<line x1="644.55" y1="970.20" x2="644.55" y2="971.80" stroke="#000" stroke-width="0.8"/>
<line x1="645.76" y1="970.20" x2="645.76" y2="971.80" stroke="#000" stroke-width="0.8"/>
<line x1="646.84" y1="970.20" x2="646.84" y2="971.80" stroke="#000" stroke-width="0.8"/>
<line x1="654.12" y1="970.20" x2="654.12" y2="971.80" stroke="#000" stroke-width="0.8"/>
<line x1="657.82" y1="970.20" x2="657.82" y2="971.80" stroke="#000" stroke-width="0.8"/>
<line x1="660.44" y1="970.20" x2="660.44" y2="971.80" stroke="#000" stroke-width="0.8"/>
<line x1="500.80" y1="970.20" x2="500.80" y2="972.60" stroke="#000" stroke-width="1.1"/>
<line x1="521.80" y1="970.20" x2="521.80" y2="972.60" stroke="#000" stroke-width="1.1"/>
<line x1="542.80" y1="970.20" x2="542.80" y2="972.60" stroke="#000" stroke-width="1.1"/>
<line x1="563.80" y1="970.20" x2="563.80" y2="972.60" stroke="#000" stroke-width="1.1"/>
<line x1="584.80" y1="970.20" x2="584.80" y2="972.60" stroke="#000" stroke-width="1.1"/>
<line x1="605.80" y1="970.20" x2="605.80" y2="972.60" stroke="#000" stroke-width="1.1"/>
<line x1="626.80" y1="970.20" x2="626.80" y2="972.60" stroke="#000" stroke-width="1.1"/>
<line x1="647.80" y1="970.20" x2="647.80" y2="972.60" stroke="#000" stroke-width="1.1"/>
<text x="509.50" y="982.80" font-size="6.8" fill="#333" text-anchor="middle">10<tspan dy="-3.06" font-size="5.44">1</tspan></text>
<text x="546.50" y="982.80" font-size="6.8" fill="#333" text-anchor="middle">10<tspan dy="-3.06" font-size="5.44">3</tspan></text>
<text x="589.00" y="982.80" font-size="6.8" fill="#333" text-anchor="middle">10<tspan dy="-3.06" font-size="5.44">5</tspan></text>
<text x="630.50" y="982.80" font-size="6.8" fill="#333" text-anchor="middle">10<tspan dy="-3.06" font-size="5.44">7</tspan></text>
<rect x="507.80" y="931.00" width="7.30" height="6.79" fill="#b5b5b5" stroke="none" stroke-width="0"/>
<text x="518.70" y="938.50" font-size="11.2" fill="#808080">NC-NC</text>
<rect x="507.80" y="943.30" width="7.30" height="6.79" fill="#0f2a55" stroke="none" stroke-width="0"/>
<text x="518.70" y="950.80" font-size="11.2" fill="#808080">Vector-Fe2+</text>
<rect x="507.80" y="955.60" width="7.30" height="6.79" fill="#ff8000" stroke="none" stroke-width="0"/>
<text x="518.70" y="963.10" font-size="11.2" fill="#808080">TRIB3-Fe2+</text>
<text x="528.90" y="844.20" font-size="14.2" fill="#636363" textLength="108.0" lengthAdjust="spacingAndGlyphs">PC3 (Pal-treated)</text>
<line x1="62.50" y1="774.40" x2="66.00" y2="774.40" stroke="#000" stroke-width="1.8"/>
<text x="60.60" y="778.50" font-size="11.8" font-weight="bold" fill="#000" text-anchor="end" textLength="6.4" lengthAdjust="spacingAndGlyphs">0</text>
<line x1="62.50" y1="754.13" x2="66.00" y2="754.13" stroke="#000" stroke-width="1.8"/>
<text x="60.60" y="758.23" font-size="11.8" font-weight="bold" fill="#000" text-anchor="end" textLength="12.8" lengthAdjust="spacingAndGlyphs">20</text>
<line x1="62.50" y1="733.87" x2="66.00" y2="733.87" stroke="#000" stroke-width="1.8"/>
<text x="60.60" y="737.97" font-size="11.8" font-weight="bold" fill="#000" text-anchor="end" textLength="12.8" lengthAdjust="spacingAndGlyphs">40</text>
<line x1="62.50" y1="713.60" x2="66.00" y2="713.60" stroke="#000" stroke-width="1.8"/>
<text x="60.60" y="717.70" font-size="11.8" font-weight="bold" fill="#000" text-anchor="end" textLength="12.8" lengthAdjust="spacingAndGlyphs">60</text>
<line x1="62.50" y1="693.33" x2="66.00" y2="693.33" stroke="#000" stroke-width="1.8"/>
<text x="60.60" y="697.43" font-size="11.8" font-weight="bold" fill="#000" text-anchor="end" textLength="12.8" lengthAdjust="spacingAndGlyphs">80</text>
<line x1="62.50" y1="673.07" x2="66.00" y2="673.07" stroke="#000" stroke-width="1.8"/>
<text x="60.60" y="677.17" font-size="11.8" font-weight="bold" fill="#000" text-anchor="end" textLength="19.2" lengthAdjust="spacingAndGlyphs">100</text>
<line x1="62.50" y1="652.80" x2="66.00" y2="652.80" stroke="#000" stroke-width="1.8"/>
<text x="60.60" y="656.90" font-size="11.8" font-weight="bold" fill="#000" text-anchor="end" textLength="19.2" lengthAdjust="spacingAndGlyphs">120</text>
<line x1="66.00" y1="652.00" x2="66.00" y2="775.60" stroke="#000" stroke-width="2.5"/>
<line x1="64.80" y1="774.40" x2="223.90" y2="774.40" stroke="#000" stroke-width="2.4"/>
<line x1="65.80" y1="774.40" x2="65.80" y2="777.90" stroke="#000" stroke-width="1.8"/>
<text x="65.80" y="790.30" font-size="12.2" font-weight="bold" fill="#000" text-anchor="middle" textLength="6.5" lengthAdjust="spacingAndGlyphs">0</text>
<line x1="97.60" y1="774.40" x2="97.60" y2="777.90" stroke="#000" stroke-width="1.8"/>
<text x="97.60" y="790.30" font-size="12.2" font-weight="bold" fill="#000" text-anchor="middle" textLength="6.5" lengthAdjust="spacingAndGlyphs">2</text>
<line x1="129.10" y1="774.40" x2="129.10" y2="777.90" stroke="#000" stroke-width="1.8"/>
<text x="129.10" y="790.30" font-size="12.2" font-weight="bold" fill="#000" text-anchor="middle" textLength="6.5" lengthAdjust="spacingAndGlyphs">4</text>
<line x1="159.80" y1="774.40" x2="159.80" y2="777.90" stroke="#000" stroke-width="1.8"/>
<text x="159.80" y="790.30" font-size="12.2" font-weight="bold" fill="#000" text-anchor="middle" textLength="6.5" lengthAdjust="spacingAndGlyphs">6</text>
<line x1="191.40" y1="774.40" x2="191.40" y2="777.90" stroke="#000" stroke-width="1.8"/>
<text x="191.40" y="790.30" font-size="12.2" font-weight="bold" fill="#000" text-anchor="middle" textLength="6.5" lengthAdjust="spacingAndGlyphs">8</text>
<line x1="222.90" y1="774.40" x2="222.90" y2="777.90" stroke="#000" stroke-width="1.8"/>
<text x="222.90" y="790.30" font-size="12.2" font-weight="bold" fill="#000" text-anchor="middle" textLength="13.0" lengthAdjust="spacingAndGlyphs">10</text>
<text transform="translate(36.60,779.50) rotate(-90)" x="0" y="0" font-size="11.8" font-weight="bold" fill="#000" textLength="138.0" lengthAdjust="spacingAndGlyphs">Relative Cell Number(%)</text>
<text x="111.40" y="807.60" font-size="12.3" font-weight="bold" fill="#000" textLength="67.3" lengthAdjust="spacingAndGlyphs">Erastin (µM)</text>
<text x="108.70" y="648.20" font-size="14.6" fill="#636363" textLength="69.0" lengthAdjust="spacingAndGlyphs">LNCaP-OE</text>
<polyline points="65.80,672.80 97.60,679.41 129.10,689.13 159.80,703.85 191.40,714.36 222.90,721.45" fill="none" stroke="#ff8300" stroke-width="1.7" stroke-linejoin="round"/>
<line x1="65.80" y1="665.80" x2="65.80" y2="679.80" stroke="#ff8300" stroke-width="1.1"/>
<line x1="63.80" y1="665.80" x2="67.80" y2="665.80" stroke="#ff8300" stroke-width="1.1"/>
<line x1="63.80" y1="679.80" x2="67.80" y2="679.80" stroke="#ff8300" stroke-width="1.1"/>
<line x1="97.60" y1="674.16" x2="97.60" y2="684.14" stroke="#ff8300" stroke-width="1.1"/>
<line x1="95.60" y1="674.16" x2="99.60" y2="674.16" stroke="#ff8300" stroke-width="1.1"/>
<line x1="95.60" y1="684.14" x2="99.60" y2="684.14" stroke="#ff8300" stroke-width="1.1"/>
<line x1="129.10" y1="686.77" x2="129.10" y2="691.50" stroke="#ff8300" stroke-width="1.1"/>
<line x1="127.10" y1="686.77" x2="131.10" y2="686.77" stroke="#ff8300" stroke-width="1.1"/>
<line x1="127.10" y1="691.50" x2="131.10" y2="691.50" stroke="#ff8300" stroke-width="1.1"/>
<line x1="159.80" y1="700.96" x2="159.80" y2="707.00" stroke="#ff8300" stroke-width="1.1"/>
<line x1="157.80" y1="700.96" x2="161.80" y2="700.96" stroke="#ff8300" stroke-width="1.1"/>
<line x1="157.80" y1="707.00" x2="161.80" y2="707.00" stroke="#ff8300" stroke-width="1.1"/>
<line x1="191.40" y1="712.25" x2="191.40" y2="716.72" stroke="#ff8300" stroke-width="1.1"/>
<line x1="189.40" y1="712.25" x2="193.40" y2="712.25" stroke="#ff8300" stroke-width="1.1"/>
<line x1="189.40" y1="716.72" x2="193.40" y2="716.72" stroke="#ff8300" stroke-width="1.1"/>
<line x1="222.90" y1="717.51" x2="222.90" y2="725.39" stroke="#ff8300" stroke-width="1.1"/>
<line x1="220.90" y1="717.51" x2="224.90" y2="717.51" stroke="#ff8300" stroke-width="1.1"/>
<line x1="220.90" y1="725.39" x2="224.90" y2="725.39" stroke="#ff8300" stroke-width="1.1"/>
<polygon points="65.80,670.16 63.16,674.78 68.44,674.78" fill="#ff8300"/>
<polygon points="97.60,676.77 94.96,681.39 100.24,681.39" fill="#ff8300"/>
<polygon points="129.10,686.49 126.46,691.11 131.74,691.11" fill="#ff8300"/>
<polygon points="159.80,701.21 157.16,705.83 162.44,705.83" fill="#ff8300"/>
<polygon points="191.40,711.72 188.76,716.34 194.04,716.34" fill="#ff8300"/>
<polygon points="222.90,718.81 220.26,723.43 225.54,723.43" fill="#ff8300"/>
<polyline points="65.80,672.80 97.60,685.98 129.10,702.53 159.80,715.41 191.40,723.29 222.90,733.80" fill="none" stroke="#9c0508" stroke-width="1.7" stroke-linejoin="round"/>
<line x1="65.80" y1="667.40" x2="65.80" y2="678.20" stroke="#9c0508" stroke-width="1.1"/>
<line x1="63.80" y1="667.40" x2="67.80" y2="667.40" stroke="#9c0508" stroke-width="1.1"/>
<line x1="63.80" y1="678.20" x2="67.80" y2="678.20" stroke="#9c0508" stroke-width="1.1"/>
<line x1="97.60" y1="683.35" x2="97.60" y2="688.61" stroke="#9c0508" stroke-width="1.1"/>
<line x1="95.60" y1="683.35" x2="99.60" y2="683.35" stroke="#9c0508" stroke-width="1.1"/>
<line x1="95.60" y1="688.61" x2="99.60" y2="688.61" stroke="#9c0508" stroke-width="1.1"/>
<line x1="129.10" y1="699.91" x2="129.10" y2="705.16" stroke="#9c0508" stroke-width="1.1"/>
<line x1="127.10" y1="699.91" x2="131.10" y2="699.91" stroke="#9c0508" stroke-width="1.1"/>
<line x1="127.10" y1="705.16" x2="131.10" y2="705.16" stroke="#9c0508" stroke-width="1.1"/>
<line x1="159.80" y1="713.04" x2="159.80" y2="717.77" stroke="#9c0508" stroke-width="1.1"/>
<line x1="157.80" y1="713.04" x2="161.80" y2="713.04" stroke="#9c0508" stroke-width="1.1"/>
<line x1="157.80" y1="717.77" x2="161.80" y2="717.77" stroke="#9c0508" stroke-width="1.1"/>
<line x1="191.40" y1="718.30" x2="191.40" y2="728.28" stroke="#9c0508" stroke-width="1.1"/>
<line x1="189.40" y1="718.30" x2="193.40" y2="718.30" stroke="#9c0508" stroke-width="1.1"/>
<line x1="189.40" y1="728.28" x2="193.40" y2="728.28" stroke="#9c0508" stroke-width="1.1"/>
<line x1="222.90" y1="728.54" x2="222.90" y2="739.84" stroke="#9c0508" stroke-width="1.1"/>
<line x1="220.90" y1="728.54" x2="224.90" y2="728.54" stroke="#9c0508" stroke-width="1.1"/>
<line x1="220.90" y1="739.84" x2="224.90" y2="739.84" stroke="#9c0508" stroke-width="1.1"/>
<polygon points="65.80,675.44 63.16,670.82 68.44,670.82" fill="#9c0508"/>
<polygon points="97.60,688.62 94.96,684.00 100.24,684.00" fill="#9c0508"/>
<polygon points="129.10,705.17 126.46,700.55 131.74,700.55" fill="#9c0508"/>
<polygon points="159.80,718.05 157.16,713.43 162.44,713.43" fill="#9c0508"/>
<polygon points="191.40,725.93 188.76,721.31 194.04,721.31" fill="#9c0508"/>
<polygon points="222.90,736.44 220.26,731.82 225.54,731.82" fill="#9c0508"/>
<polyline points="65.80,672.80 97.60,707.00 129.10,731.96 159.80,737.21 191.40,743.78 222.90,753.77" fill="none" stroke="#0c2f5c" stroke-width="1.7" stroke-linejoin="round"/>
<line x1="65.80" y1="668.30" x2="65.80" y2="677.30" stroke="#0c2f5c" stroke-width="1.1"/>
<line x1="63.80" y1="668.30" x2="67.80" y2="668.30" stroke="#0c2f5c" stroke-width="1.1"/>
<line x1="63.80" y1="677.30" x2="67.80" y2="677.30" stroke="#0c2f5c" stroke-width="1.1"/>
<line x1="97.60" y1="703.06" x2="97.60" y2="710.94" stroke="#0c2f5c" stroke-width="1.1"/>
<line x1="95.60" y1="703.06" x2="99.60" y2="703.06" stroke="#0c2f5c" stroke-width="1.1"/>
<line x1="95.60" y1="710.94" x2="99.60" y2="710.94" stroke="#0c2f5c" stroke-width="1.1"/>
<line x1="129.10" y1="723.29" x2="129.10" y2="740.63" stroke="#0c2f5c" stroke-width="1.1"/>
<line x1="127.10" y1="723.29" x2="131.10" y2="723.29" stroke="#0c2f5c" stroke-width="1.1"/>
<line x1="127.10" y1="740.63" x2="131.10" y2="740.63" stroke="#0c2f5c" stroke-width="1.1"/>
<line x1="159.80" y1="733.27" x2="159.80" y2="741.16" stroke="#0c2f5c" stroke-width="1.1"/>
<line x1="157.80" y1="733.27" x2="161.80" y2="733.27" stroke="#0c2f5c" stroke-width="1.1"/>
<line x1="157.80" y1="741.16" x2="161.80" y2="741.16" stroke="#0c2f5c" stroke-width="1.1"/>
<line x1="191.40" y1="738.53" x2="191.40" y2="749.56" stroke="#0c2f5c" stroke-width="1.1"/>
<line x1="189.40" y1="738.53" x2="193.40" y2="738.53" stroke="#0c2f5c" stroke-width="1.1"/>
<line x1="189.40" y1="749.56" x2="193.40" y2="749.56" stroke="#0c2f5c" stroke-width="1.1"/>
<line x1="222.90" y1="751.67" x2="222.90" y2="756.13" stroke="#0c2f5c" stroke-width="1.1"/>
<line x1="220.90" y1="751.67" x2="224.90" y2="751.67" stroke="#0c2f5c" stroke-width="1.1"/>
<line x1="220.90" y1="756.13" x2="224.90" y2="756.13" stroke="#0c2f5c" stroke-width="1.1"/>
<polygon points="65.80,670.16 63.16,674.78 68.44,674.78" fill="#0c2f5c"/>
<polygon points="97.60,704.36 94.96,708.98 100.24,708.98" fill="#0c2f5c"/>
<polygon points="129.10,729.32 126.46,733.94 131.74,733.94" fill="#0c2f5c"/>
<polygon points="159.80,734.57 157.16,739.19 162.44,739.19" fill="#0c2f5c"/>
<polygon points="191.40,741.14 188.76,745.76 194.04,745.76" fill="#0c2f5c"/>
<polygon points="222.90,751.13 220.26,755.75 225.54,755.75" fill="#0c2f5c"/>
<polyline points="65.80,672.80 97.60,692.55 129.10,713.57 159.80,723.55 191.40,731.17 222.90,744.31" fill="none" stroke="#8c8c8c" stroke-width="1.7" stroke-linejoin="round"/>
<line x1="65.80" y1="670.80" x2="65.80" y2="674.80" stroke="#8c8c8c" stroke-width="1.1"/>
<line x1="63.80" y1="670.80" x2="67.80" y2="670.80" stroke="#8c8c8c" stroke-width="1.1"/>
<line x1="63.80" y1="674.80" x2="67.80" y2="674.80" stroke="#8c8c8c" stroke-width="1.1"/>
<line x1="97.60" y1="689.92" x2="97.60" y2="695.70" stroke="#8c8c8c" stroke-width="1.1"/>
<line x1="95.60" y1="689.92" x2="99.60" y2="689.92" stroke="#8c8c8c" stroke-width="1.1"/>
<line x1="95.60" y1="695.70" x2="99.60" y2="695.70" stroke="#8c8c8c" stroke-width="1.1"/>
<line x1="129.10" y1="710.42" x2="129.10" y2="716.98" stroke="#8c8c8c" stroke-width="1.1"/>
<line x1="127.10" y1="710.42" x2="131.10" y2="710.42" stroke="#8c8c8c" stroke-width="1.1"/>
<line x1="127.10" y1="716.98" x2="131.10" y2="716.98" stroke="#8c8c8c" stroke-width="1.1"/>
<line x1="159.80" y1="717.51" x2="159.80" y2="729.33" stroke="#8c8c8c" stroke-width="1.1"/>
<line x1="157.80" y1="717.51" x2="161.80" y2="717.51" stroke="#8c8c8c" stroke-width="1.1"/>
<line x1="157.80" y1="729.33" x2="161.80" y2="729.33" stroke="#8c8c8c" stroke-width="1.1"/>
<line x1="191.40" y1="728.54" x2="191.40" y2="734.06" stroke="#8c8c8c" stroke-width="1.1"/>
<line x1="189.40" y1="728.54" x2="193.40" y2="728.54" stroke="#8c8c8c" stroke-width="1.1"/>
<line x1="189.40" y1="734.06" x2="193.40" y2="734.06" stroke="#8c8c8c" stroke-width="1.1"/>
<line x1="222.90" y1="739.84" x2="222.90" y2="748.25" stroke="#8c8c8c" stroke-width="1.1"/>
<line x1="220.90" y1="739.84" x2="224.90" y2="739.84" stroke="#8c8c8c" stroke-width="1.1"/>
<line x1="220.90" y1="748.25" x2="224.90" y2="748.25" stroke="#8c8c8c" stroke-width="1.1"/>
<circle cx="65.80" cy="672.80" r="2.20" fill="#8c8c8c"/>
<circle cx="97.60" cy="692.55" r="2.20" fill="#8c8c8c"/>
<circle cx="129.10" cy="713.57" r="2.20" fill="#8c8c8c"/>
<circle cx="159.80" cy="723.55" r="2.20" fill="#8c8c8c"/>
<circle cx="191.40" cy="731.17" r="2.20" fill="#8c8c8c"/>
<circle cx="222.90" cy="744.31" r="2.20" fill="#8c8c8c"/>
<line x1="188.80" y1="656.50" x2="200.90" y2="656.50" stroke="#8c8c8c" stroke-width="2.0"/>
<circle cx="194.85" cy="656.50" r="2.40" fill="#8c8c8c"/>
<text x="203.80" y="659.50" font-size="8.3" font-weight="bold" fill="#000" textLength="58.1" lengthAdjust="spacingAndGlyphs">Vector-Control</text>
<line x1="188.80" y1="669.20" x2="200.90" y2="669.20" stroke="#0c2f5c" stroke-width="2.0"/>
<polygon points="194.85,666.32 191.97,671.36 197.73,671.36" fill="#0c2f5c"/>
<text x="203.80" y="672.20" font-size="8.3" font-weight="bold" fill="#000" textLength="73.4" lengthAdjust="spacingAndGlyphs">Vector-Palbociclib</text>
<line x1="188.80" y1="683.70" x2="200.90" y2="683.70" stroke="#ff8300" stroke-width="2.0"/>
<polygon points="194.85,680.82 191.97,685.86 197.73,685.86" fill="#ff8300"/>
<text x="203.80" y="686.70" font-size="8.3" font-weight="bold" fill="#000" textLength="57.5" lengthAdjust="spacingAndGlyphs">TRIB3-Control</text>
<line x1="188.80" y1="699.40" x2="200.90" y2="699.40" stroke="#9c0508" stroke-width="2.0"/>
<polygon points="194.85,702.28 191.97,697.24 197.73,697.24" fill="#9c0508"/>
<text x="203.80" y="702.40" font-size="8.3" font-weight="bold" fill="#000" textLength="71.5" lengthAdjust="spacingAndGlyphs">TRIB3-Palbociclib</text>
<line x1="61.50" y1="966.20" x2="65.00" y2="966.20" stroke="#000" stroke-width="1.8"/>
<text x="60.60" y="970.30" font-size="11.8" font-weight="bold" fill="#000" text-anchor="end" textLength="6.4" lengthAdjust="spacingAndGlyphs">0</text>
<line x1="61.50" y1="945.92" x2="65.00" y2="945.92" stroke="#000" stroke-width="1.8"/>
<text x="60.60" y="950.02" font-size="11.8" font-weight="bold" fill="#000" text-anchor="end" textLength="12.8" lengthAdjust="spacingAndGlyphs">20</text>
<line x1="61.50" y1="925.63" x2="65.00" y2="925.63" stroke="#000" stroke-width="1.8"/>
<text x="60.60" y="929.73" font-size="11.8" font-weight="bold" fill="#000" text-anchor="end" textLength="12.8" lengthAdjust="spacingAndGlyphs">40</text>
<line x1="61.50" y1="905.35" x2="65.00" y2="905.35" stroke="#000" stroke-width="1.8"/>
<text x="60.60" y="909.45" font-size="11.8" font-weight="bold" fill="#000" text-anchor="end" textLength="12.8" lengthAdjust="spacingAndGlyphs">60</text>
<line x1="61.50" y1="885.07" x2="65.00" y2="885.07" stroke="#000" stroke-width="1.8"/>
<text x="60.60" y="889.17" font-size="11.8" font-weight="bold" fill="#000" text-anchor="end" textLength="12.8" lengthAdjust="spacingAndGlyphs">80</text>
<line x1="61.50" y1="864.78" x2="65.00" y2="864.78" stroke="#000" stroke-width="1.8"/>
<text x="60.60" y="868.88" font-size="11.8" font-weight="bold" fill="#000" text-anchor="end" textLength="19.2" lengthAdjust="spacingAndGlyphs">100</text>
<line x1="61.50" y1="844.50" x2="65.00" y2="844.50" stroke="#000" stroke-width="1.8"/>
<text x="60.60" y="848.60" font-size="11.8" font-weight="bold" fill="#000" text-anchor="end" textLength="19.2" lengthAdjust="spacingAndGlyphs">120</text>
<line x1="65.00" y1="843.70" x2="65.00" y2="967.40" stroke="#000" stroke-width="2.5"/>
<line x1="63.80" y1="966.20" x2="223.90" y2="966.20" stroke="#000" stroke-width="2.4"/>
<line x1="65.80" y1="966.20" x2="65.80" y2="969.70" stroke="#000" stroke-width="1.8"/>
<text x="65.80" y="982.10" font-size="12.2" font-weight="bold" fill="#000" text-anchor="middle" textLength="6.5" lengthAdjust="spacingAndGlyphs">0</text>
<line x1="97.30" y1="966.20" x2="97.30" y2="969.70" stroke="#000" stroke-width="1.8"/>
<text x="97.30" y="982.10" font-size="12.2" font-weight="bold" fill="#000" text-anchor="middle" textLength="6.5" lengthAdjust="spacingAndGlyphs">1</text>
<line x1="128.80" y1="966.20" x2="128.80" y2="969.70" stroke="#000" stroke-width="1.8"/>
<text x="128.80" y="982.10" font-size="12.2" font-weight="bold" fill="#000" text-anchor="middle" textLength="6.5" lengthAdjust="spacingAndGlyphs">2</text>
<line x1="159.80" y1="966.20" x2="159.80" y2="969.70" stroke="#000" stroke-width="1.8"/>
<text x="159.80" y="982.10" font-size="12.2" font-weight="bold" fill="#000" text-anchor="middle" textLength="6.5" lengthAdjust="spacingAndGlyphs">3</text>
<line x1="191.40" y1="966.20" x2="191.40" y2="969.70" stroke="#000" stroke-width="1.8"/>
<text x="191.40" y="982.10" font-size="12.2" font-weight="bold" fill="#000" text-anchor="middle" textLength="6.5" lengthAdjust="spacingAndGlyphs">4</text>
<line x1="222.90" y1="966.20" x2="222.90" y2="969.70" stroke="#000" stroke-width="1.8"/>
<text x="222.90" y="982.10" font-size="12.2" font-weight="bold" fill="#000" text-anchor="middle" textLength="6.5" lengthAdjust="spacingAndGlyphs">5</text>
<text transform="translate(37.50,971.00) rotate(-90)" x="0" y="0" font-size="11.8" font-weight="bold" fill="#000" textLength="137.5" lengthAdjust="spacingAndGlyphs">Relative Cell Number(%)</text>
<text x="110.40" y="999.40" font-size="12.3" font-weight="bold" fill="#000" textLength="68.3" lengthAdjust="spacingAndGlyphs">Erastin (µM)</text>
<text x="124.80" y="841.50" font-size="14.6" fill="#636363" textLength="51.6" lengthAdjust="spacingAndGlyphs">PC3-OE</text>
<polyline points="65.80,864.20 97.30,869.94 128.80,878.61 159.80,893.06 191.40,902.25 222.90,914.60" fill="none" stroke="#ff8300" stroke-width="1.7" stroke-linejoin="round"/>
<line x1="65.80" y1="857.20" x2="65.80" y2="871.20" stroke="#ff8300" stroke-width="1.1"/>
<line x1="63.80" y1="857.20" x2="67.80" y2="857.20" stroke="#ff8300" stroke-width="1.1"/>
<line x1="63.80" y1="871.20" x2="67.80" y2="871.20" stroke="#ff8300" stroke-width="1.1"/>
<line x1="97.30" y1="864.68" x2="97.30" y2="874.67" stroke="#ff8300" stroke-width="1.1"/>
<line x1="95.30" y1="864.68" x2="99.30" y2="864.68" stroke="#ff8300" stroke-width="1.1"/>
<line x1="95.30" y1="874.67" x2="99.30" y2="874.67" stroke="#ff8300" stroke-width="1.1"/>
<line x1="128.80" y1="872.04" x2="128.80" y2="885.18" stroke="#ff8300" stroke-width="1.1"/>
<line x1="126.80" y1="872.04" x2="130.80" y2="872.04" stroke="#ff8300" stroke-width="1.1"/>
<line x1="126.80" y1="885.18" x2="130.80" y2="885.18" stroke="#ff8300" stroke-width="1.1"/>
<line x1="159.80" y1="889.91" x2="159.80" y2="896.21" stroke="#ff8300" stroke-width="1.1"/>
<line x1="157.80" y1="889.91" x2="161.80" y2="889.91" stroke="#ff8300" stroke-width="1.1"/>
<line x1="157.80" y1="896.21" x2="161.80" y2="896.21" stroke="#ff8300" stroke-width="1.1"/>
<line x1="191.40" y1="898.31" x2="191.40" y2="906.20" stroke="#ff8300" stroke-width="1.1"/>
<line x1="189.40" y1="898.31" x2="193.40" y2="898.31" stroke="#ff8300" stroke-width="1.1"/>
<line x1="189.40" y1="906.20" x2="193.40" y2="906.20" stroke="#ff8300" stroke-width="1.1"/>
<line x1="222.90" y1="907.51" x2="222.90" y2="921.96" stroke="#ff8300" stroke-width="1.1"/>
<line x1="220.90" y1="907.51" x2="224.90" y2="907.51" stroke="#ff8300" stroke-width="1.1"/>
<line x1="220.90" y1="921.96" x2="224.90" y2="921.96" stroke="#ff8300" stroke-width="1.1"/>
<polygon points="65.80,861.56 63.16,866.18 68.44,866.18" fill="#ff8300"/>
<polygon points="97.30,867.30 94.66,871.92 99.94,871.92" fill="#ff8300"/>
<polygon points="128.80,875.97 126.16,880.59 131.44,880.59" fill="#ff8300"/>
<polygon points="159.80,890.42 157.16,895.04 162.44,895.04" fill="#ff8300"/>
<polygon points="191.40,899.61 188.76,904.23 194.04,904.23" fill="#ff8300"/>
<polygon points="222.90,911.96 220.26,916.58 225.54,916.58" fill="#ff8300"/>
<polyline points="65.80,864.20 97.30,877.29 128.80,892.27 159.80,904.36 191.40,914.08 222.90,922.75" fill="none" stroke="#9c0508" stroke-width="1.7" stroke-linejoin="round"/>
<line x1="65.80" y1="858.80" x2="65.80" y2="869.60" stroke="#9c0508" stroke-width="1.1"/>
<line x1="63.80" y1="858.80" x2="67.80" y2="858.80" stroke="#9c0508" stroke-width="1.1"/>
<line x1="63.80" y1="869.60" x2="67.80" y2="869.60" stroke="#9c0508" stroke-width="1.1"/>
<line x1="97.30" y1="872.04" x2="97.30" y2="883.86" stroke="#9c0508" stroke-width="1.1"/>
<line x1="95.30" y1="872.04" x2="99.30" y2="872.04" stroke="#9c0508" stroke-width="1.1"/>
<line x1="95.30" y1="883.86" x2="99.30" y2="883.86" stroke="#9c0508" stroke-width="1.1"/>
<line x1="128.80" y1="889.91" x2="128.80" y2="895.16" stroke="#9c0508" stroke-width="1.1"/>
<line x1="126.80" y1="889.91" x2="130.80" y2="889.91" stroke="#9c0508" stroke-width="1.1"/>
<line x1="126.80" y1="895.16" x2="130.80" y2="895.16" stroke="#9c0508" stroke-width="1.1"/>
<line x1="159.80" y1="899.63" x2="159.80" y2="910.14" stroke="#9c0508" stroke-width="1.1"/>
<line x1="157.80" y1="899.63" x2="161.80" y2="899.63" stroke="#9c0508" stroke-width="1.1"/>
<line x1="157.80" y1="910.14" x2="161.80" y2="910.14" stroke="#9c0508" stroke-width="1.1"/>
<line x1="191.40" y1="908.30" x2="191.40" y2="920.65" stroke="#9c0508" stroke-width="1.1"/>
<line x1="189.40" y1="908.30" x2="193.40" y2="908.30" stroke="#9c0508" stroke-width="1.1"/>
<line x1="189.40" y1="920.65" x2="193.40" y2="920.65" stroke="#9c0508" stroke-width="1.1"/>
<line x1="222.90" y1="916.71" x2="222.90" y2="929.84" stroke="#9c0508" stroke-width="1.1"/>
<line x1="220.90" y1="916.71" x2="224.90" y2="916.71" stroke="#9c0508" stroke-width="1.1"/>
<line x1="220.90" y1="929.84" x2="224.90" y2="929.84" stroke="#9c0508" stroke-width="1.1"/>
<rect x="63.60" y="862.00" width="4.40" height="4.40" fill="#9c0508"/>
<rect x="95.10" y="875.09" width="4.40" height="4.40" fill="#9c0508"/>
<rect x="126.60" y="890.07" width="4.40" height="4.40" fill="#9c0508"/>
<rect x="157.60" y="902.16" width="4.40" height="4.40" fill="#9c0508"/>
<rect x="189.20" y="911.88" width="4.40" height="4.40" fill="#9c0508"/>
<rect x="220.70" y="920.55" width="4.40" height="4.40" fill="#9c0508"/>
<polyline points="65.80,864.20 97.30,895.69 128.80,912.76 159.80,929.05 191.40,940.35 222.90,948.23" fill="none" stroke="#0c2f5c" stroke-width="1.7" stroke-linejoin="round"/>
<line x1="65.80" y1="859.70" x2="65.80" y2="868.70" stroke="#0c2f5c" stroke-width="1.1"/>
<line x1="63.80" y1="859.70" x2="67.80" y2="859.70" stroke="#0c2f5c" stroke-width="1.1"/>
<line x1="63.80" y1="868.70" x2="67.80" y2="868.70" stroke="#0c2f5c" stroke-width="1.1"/>
<line x1="97.30" y1="889.12" x2="97.30" y2="902.25" stroke="#0c2f5c" stroke-width="1.1"/>
<line x1="95.30" y1="889.12" x2="99.30" y2="889.12" stroke="#0c2f5c" stroke-width="1.1"/>
<line x1="95.30" y1="902.25" x2="99.30" y2="902.25" stroke="#0c2f5c" stroke-width="1.1"/>
<line x1="128.80" y1="910.92" x2="128.80" y2="914.60" stroke="#0c2f5c" stroke-width="1.1"/>
<line x1="126.80" y1="910.92" x2="130.80" y2="910.92" stroke="#0c2f5c" stroke-width="1.1"/>
<line x1="126.80" y1="914.60" x2="130.80" y2="914.60" stroke="#0c2f5c" stroke-width="1.1"/>
<line x1="159.80" y1="923.27" x2="159.80" y2="934.57" stroke="#0c2f5c" stroke-width="1.1"/>
<line x1="157.80" y1="923.27" x2="161.80" y2="923.27" stroke="#0c2f5c" stroke-width="1.1"/>
<line x1="157.80" y1="934.57" x2="161.80" y2="934.57" stroke="#0c2f5c" stroke-width="1.1"/>
<line x1="191.40" y1="936.41" x2="191.40" y2="943.50" stroke="#0c2f5c" stroke-width="1.1"/>
<line x1="189.40" y1="936.41" x2="193.40" y2="936.41" stroke="#0c2f5c" stroke-width="1.1"/>
<line x1="189.40" y1="943.50" x2="193.40" y2="943.50" stroke="#0c2f5c" stroke-width="1.1"/>
<line x1="222.90" y1="942.45" x2="222.90" y2="953.49" stroke="#0c2f5c" stroke-width="1.1"/>
<line x1="220.90" y1="942.45" x2="224.90" y2="942.45" stroke="#0c2f5c" stroke-width="1.1"/>
<line x1="220.90" y1="953.49" x2="224.90" y2="953.49" stroke="#0c2f5c" stroke-width="1.1"/>
<polygon points="65.80,861.56 63.16,866.18 68.44,866.18" fill="#0c2f5c"/>
<polygon points="97.30,893.05 94.66,897.67 99.94,897.67" fill="#0c2f5c"/>
<polygon points="128.80,910.12 126.16,914.74 131.44,914.74" fill="#0c2f5c"/>
<polygon points="159.80,926.41 157.16,931.03 162.44,931.03" fill="#0c2f5c"/>
<polygon points="191.40,937.71 188.76,942.33 194.04,942.33" fill="#0c2f5c"/>
<polygon points="222.90,945.59 220.26,950.21 225.54,950.21" fill="#0c2f5c"/>
<polyline points="65.80,864.20 97.30,885.96 128.80,899.63 159.80,914.87 191.40,925.11 222.90,935.10" fill="none" stroke="#8c8c8c" stroke-width="1.7" stroke-linejoin="round"/>
<line x1="65.80" y1="862.20" x2="65.80" y2="866.20" stroke="#8c8c8c" stroke-width="1.1"/>
<line x1="63.80" y1="862.20" x2="67.80" y2="862.20" stroke="#8c8c8c" stroke-width="1.1"/>
<line x1="63.80" y1="866.20" x2="67.80" y2="866.20" stroke="#8c8c8c" stroke-width="1.1"/>
<line x1="97.30" y1="882.55" x2="97.30" y2="890.43" stroke="#8c8c8c" stroke-width="1.1"/>
<line x1="95.30" y1="882.55" x2="99.30" y2="882.55" stroke="#8c8c8c" stroke-width="1.1"/>
<line x1="95.30" y1="890.43" x2="99.30" y2="890.43" stroke="#8c8c8c" stroke-width="1.1"/>
<line x1="128.80" y1="894.37" x2="128.80" y2="906.20" stroke="#8c8c8c" stroke-width="1.1"/>
<line x1="126.80" y1="894.37" x2="130.80" y2="894.37" stroke="#8c8c8c" stroke-width="1.1"/>
<line x1="126.80" y1="906.20" x2="130.80" y2="906.20" stroke="#8c8c8c" stroke-width="1.1"/>
<line x1="159.80" y1="910.92" x2="159.80" y2="919.33" stroke="#8c8c8c" stroke-width="1.1"/>
<line x1="157.80" y1="910.92" x2="161.80" y2="910.92" stroke="#8c8c8c" stroke-width="1.1"/>
<line x1="157.80" y1="919.33" x2="161.80" y2="919.33" stroke="#8c8c8c" stroke-width="1.1"/>
<line x1="191.40" y1="921.96" x2="191.40" y2="928.53" stroke="#8c8c8c" stroke-width="1.1"/>
<line x1="189.40" y1="921.96" x2="193.40" y2="921.96" stroke="#8c8c8c" stroke-width="1.1"/>
<line x1="189.40" y1="928.53" x2="193.40" y2="928.53" stroke="#8c8c8c" stroke-width="1.1"/>
<line x1="222.90" y1="933.26" x2="222.90" y2="937.20" stroke="#8c8c8c" stroke-width="1.1"/>
<line x1="220.90" y1="933.26" x2="224.90" y2="933.26" stroke="#8c8c8c" stroke-width="1.1"/>
<line x1="220.90" y1="937.20" x2="224.90" y2="937.20" stroke="#8c8c8c" stroke-width="1.1"/>
<rect x="63.60" y="862.00" width="4.40" height="4.40" fill="#8c8c8c"/>
<rect x="95.10" y="883.76" width="4.40" height="4.40" fill="#8c8c8c"/>
<rect x="126.60" y="897.43" width="4.40" height="4.40" fill="#8c8c8c"/>
<rect x="157.60" y="912.67" width="4.40" height="4.40" fill="#8c8c8c"/>
<rect x="189.20" y="922.91" width="4.40" height="4.40" fill="#8c8c8c"/>
<rect x="220.70" y="932.90" width="4.40" height="4.40" fill="#8c8c8c"/>
<line x1="182.10" y1="844.70" x2="194.30" y2="844.70" stroke="#8c8c8c" stroke-width="2.0"/>
<circle cx="188.20" cy="844.70" r="2.40" fill="#8c8c8c"/>
<text x="196.90" y="847.70" font-size="8.3" font-weight="bold" fill="#000" textLength="58.2" lengthAdjust="spacingAndGlyphs">Vector-Control</text>
<line x1="182.10" y1="857.60" x2="194.30" y2="857.60" stroke="#0c2f5c" stroke-width="2.0"/>
<polygon points="188.20,854.72 185.32,859.76 191.08,859.76" fill="#0c2f5c"/>
<text x="196.90" y="860.60" font-size="8.3" font-weight="bold" fill="#000" textLength="58.2" lengthAdjust="spacingAndGlyphs">Vector-Control</text>
<line x1="182.10" y1="872.30" x2="194.30" y2="872.30" stroke="#ff8300" stroke-width="2.0"/>
<polygon points="188.20,869.42 185.32,874.46 191.08,874.46" fill="#ff8300"/>
<text x="196.90" y="875.30" font-size="8.3" font-weight="bold" fill="#000" textLength="57.5" lengthAdjust="spacingAndGlyphs">TRIB3-Control</text>
<line x1="182.10" y1="887.40" x2="194.30" y2="887.40" stroke="#9c0508" stroke-width="2.0"/>
<rect x="185.80" y="885.00" width="4.80" height="4.80" fill="#9c0508"/>
<text x="196.90" y="890.40" font-size="8.3" font-weight="bold" fill="#000" textLength="71.5" lengthAdjust="spacingAndGlyphs">TRIB3-Palbociclib</text>
<line x1="339.40" y1="776.20" x2="343.40" y2="776.20" stroke="#000" stroke-width="1.8"/>
<text x="337.30" y="780.40" font-size="12" font-weight="bold" fill="#000" text-anchor="end" textLength="14.6" lengthAdjust="spacingAndGlyphs">0.0</text>
<line x1="339.40" y1="736.13" x2="343.40" y2="736.13" stroke="#000" stroke-width="1.8"/>
<text x="337.30" y="740.33" font-size="12" font-weight="bold" fill="#000" text-anchor="end" textLength="14.6" lengthAdjust="spacingAndGlyphs">0.5</text>
<line x1="339.40" y1="696.07" x2="343.40" y2="696.07" stroke="#000" stroke-width="1.8"/>
<text x="337.30" y="700.27" font-size="12" font-weight="bold" fill="#000" text-anchor="end" textLength="14.6" lengthAdjust="spacingAndGlyphs">1.0</text>
<line x1="339.40" y1="656.00" x2="343.40" y2="656.00" stroke="#000" stroke-width="1.8"/>
<text x="337.30" y="660.20" font-size="12" font-weight="bold" fill="#000" text-anchor="end" textLength="14.6" lengthAdjust="spacingAndGlyphs">1.5</text>
<line x1="343.40" y1="655.20" x2="343.40" y2="777.50" stroke="#000" stroke-width="2.6"/>
<line x1="342.10" y1="776.20" x2="429.60" y2="776.20" stroke="#000" stroke-width="2.5"/>
<text transform="translate(317.40,769.00) rotate(-90)" x="0" y="0" font-size="11.5" font-weight="bold" fill="#000" textLength="112.4" lengthAdjust="spacingAndGlyphs">Normalized GSH Level</text>
<path d="M350.50,776.20V697.20H361.70V776.20" fill="#fff" stroke="#8a8a8a" stroke-width="1.8"/>
<line x1="356.10" y1="776.20" x2="356.10" y2="779.70" stroke="#000" stroke-width="1.8"/>
<path d="M370.45,776.20V676.70H381.45V776.20" fill="#fff" stroke="#0c2f5c" stroke-width="2.0"/>
<line x1="375.95" y1="776.20" x2="375.95" y2="779.70" stroke="#000" stroke-width="1.8"/>
<path d="M390.30,776.20V726.00H401.30V776.20" fill="#fff" stroke="#ff8300" stroke-width="2.0"/>
<line x1="395.80" y1="776.20" x2="395.80" y2="779.70" stroke="#000" stroke-width="1.8"/>
<path d="M410.15,776.20V703.50H421.15V776.20" fill="#fff" stroke="#9c0508" stroke-width="2.0"/>
<line x1="415.65" y1="702.50" x2="415.65" y2="696.30" stroke="#9c0508" stroke-width="1.1"/>
<line x1="413.15" y1="696.30" x2="418.15" y2="696.30" stroke="#9c0508" stroke-width="1.1"/>
<line x1="415.65" y1="776.20" x2="415.65" y2="779.70" stroke="#000" stroke-width="1.8"/>
<rect x="350.30" y="694.80" width="4.40" height="4.40" fill="#000" stroke="none" stroke-width="0"/>
<rect x="354.30" y="693.40" width="4.40" height="4.40" fill="#000" stroke="none" stroke-width="0"/>
<rect x="358.30" y="695.00" width="4.40" height="4.40" fill="#000" stroke="none" stroke-width="0"/>
<polygon points="371.50,674.08 369.08,678.48 373.92,678.48" fill="#000"/>
<polygon points="375.50,672.38 373.08,676.78 377.92,676.78" fill="#000"/>
<polygon points="380.50,673.58 378.08,677.98 382.92,677.98" fill="#000"/>
<polygon points="390.60,721.76 387.96,724.40 390.60,727.04 393.24,724.40" fill="#000"/>
<polygon points="395.50,721.36 392.86,724.00 395.50,726.64 398.14,724.00" fill="#000"/>
<polygon points="400.50,721.56 397.86,724.20 400.50,726.84 403.14,724.20" fill="#000"/>
<polygon points="410.40,703.42 407.98,699.02 412.82,699.02" fill="#000"/>
<polygon points="415.30,698.92 412.88,694.52 417.72,694.52" fill="#000"/>
<polygon points="420.20,703.42 417.78,699.02 422.62,699.02" fill="#000"/>
<line x1="354.60" y1="655.00" x2="415.60" y2="655.00" stroke="#1a1a1a" stroke-width="1.2"/>
<line x1="354.50" y1="655.00" x2="354.50" y2="690.20" stroke="#1a1a1a" stroke-width="1.2"/>
<line x1="376.00" y1="655.00" x2="376.00" y2="670.30" stroke="#1a1a1a" stroke-width="1.2"/>
<line x1="395.10" y1="655.00" x2="395.10" y2="718.60" stroke="#1a1a1a" stroke-width="1.2"/>
<line x1="415.50" y1="655.00" x2="415.50" y2="691.80" stroke="#1a1a1a" stroke-width="1.2"/>
<path d="M371.40,657.40L371.40,662.40M369.23,658.65L373.57,661.15M373.57,658.65L369.23,661.15" stroke="#111" stroke-width="1.15" fill="none"/>
<path d="M371.40,667.00L371.40,672.00M369.23,668.25L373.57,670.75M373.57,668.25L369.23,670.75" stroke="#111" stroke-width="1.15" fill="none"/>
<path d="M390.60,657.40L390.60,662.40M388.43,658.65L392.77,661.15M392.77,658.65L388.43,661.15" stroke="#111" stroke-width="1.15" fill="none"/>
<path d="M390.60,667.00L390.60,672.00M388.43,668.25L392.77,670.75M392.77,668.25L388.43,670.75" stroke="#111" stroke-width="1.15" fill="none"/>
<path d="M408.80,657.40L408.80,662.40M406.63,658.65L410.97,661.15M410.97,658.65L406.63,661.15" stroke="#111" stroke-width="1.15" fill="none"/>
<path d="M408.80,667.00L408.80,672.00M406.63,668.25L410.97,670.75M410.97,668.25L406.63,670.75" stroke="#111" stroke-width="1.15" fill="none"/>
<text x="357.60" y="650.60" font-size="14.6" fill="#636363" textLength="68.7" lengthAdjust="spacingAndGlyphs">LNCaP-OE</text>
<text x="336.50" y="799.50" font-size="14.3" fill="#636363" text-anchor="end" textLength="61.9" lengthAdjust="spacingAndGlyphs">TRIB3 OE</text>
<text x="337.00" y="818.20" font-size="14.3" fill="#636363" text-anchor="end" textLength="65.5" lengthAdjust="spacingAndGlyphs">Palbociclib</text>
<line x1="354.10" y1="795.90" x2="358.10" y2="795.90" stroke="#555555" stroke-width="1.9"/>
<line x1="372.10" y1="795.40" x2="378.90" y2="795.40" stroke="#555555" stroke-width="1.8"/>
<line x1="375.50" y1="792.10" x2="375.50" y2="798.70" stroke="#555555" stroke-width="1.8"/>
<line x1="393.30" y1="795.90" x2="397.30" y2="795.90" stroke="#555555" stroke-width="1.9"/>
<line x1="411.50" y1="795.40" x2="418.30" y2="795.40" stroke="#555555" stroke-width="1.8"/>
<line x1="414.90" y1="792.10" x2="414.90" y2="798.70" stroke="#555555" stroke-width="1.8"/>
<line x1="354.10" y1="814.60" x2="358.10" y2="814.60" stroke="#555555" stroke-width="1.9"/>
<line x1="373.50" y1="814.60" x2="377.50" y2="814.60" stroke="#555555" stroke-width="1.9"/>
<line x1="391.90" y1="814.10" x2="398.70" y2="814.10" stroke="#555555" stroke-width="1.8"/>
<line x1="395.30" y1="810.80" x2="395.30" y2="817.40" stroke="#555555" stroke-width="1.8"/>
<line x1="411.50" y1="814.10" x2="418.30" y2="814.10" stroke="#555555" stroke-width="1.8"/>
<line x1="414.90" y1="810.80" x2="414.90" y2="817.40" stroke="#555555" stroke-width="1.8"/>
<line x1="338.90" y1="967.60" x2="342.90" y2="967.60" stroke="#000" stroke-width="1.8"/>
<text x="337.30" y="971.80" font-size="12" font-weight="bold" fill="#000" text-anchor="end" textLength="14.6" lengthAdjust="spacingAndGlyphs">0.0</text>
<line x1="338.90" y1="927.57" x2="342.90" y2="927.57" stroke="#000" stroke-width="1.8"/>
<text x="337.30" y="931.77" font-size="12" font-weight="bold" fill="#000" text-anchor="end" textLength="14.6" lengthAdjust="spacingAndGlyphs">0.5</text>
<line x1="338.90" y1="887.53" x2="342.90" y2="887.53" stroke="#000" stroke-width="1.8"/>
<text x="337.30" y="891.73" font-size="12" font-weight="bold" fill="#000" text-anchor="end" textLength="14.6" lengthAdjust="spacingAndGlyphs">1.0</text>
<line x1="338.90" y1="847.50" x2="342.90" y2="847.50" stroke="#000" stroke-width="1.8"/>
<text x="337.30" y="851.70" font-size="12" font-weight="bold" fill="#000" text-anchor="end" textLength="14.6" lengthAdjust="spacingAndGlyphs">1.5</text>
<line x1="342.90" y1="846.70" x2="342.90" y2="968.90" stroke="#000" stroke-width="2.6"/>
<line x1="341.60" y1="967.60" x2="429.60" y2="967.60" stroke="#000" stroke-width="2.5"/>
<text transform="translate(317.40,961.00) rotate(-90)" x="0" y="0" font-size="11.5" font-weight="bold" fill="#000" textLength="113.0" lengthAdjust="spacingAndGlyphs">Normalized GSH Level</text>
<path d="M350.30,967.60V889.20H361.50V967.60" fill="#fff" stroke="#8a8a8a" stroke-width="1.8"/>
<line x1="355.90" y1="888.30" x2="355.90" y2="876.90" stroke="#8a8a8a" stroke-width="1.1"/>
<line x1="353.40" y1="876.90" x2="358.40" y2="876.90" stroke="#8a8a8a" stroke-width="1.1"/>
<line x1="355.90" y1="967.60" x2="355.90" y2="971.10" stroke="#000" stroke-width="1.8"/>
<path d="M370.25,967.60V865.50H381.25V967.60" fill="#fff" stroke="#0c2f5c" stroke-width="2.0"/>
<line x1="375.75" y1="864.50" x2="375.75" y2="860.20" stroke="#0c2f5c" stroke-width="1.1"/>
<line x1="373.25" y1="860.20" x2="378.25" y2="860.20" stroke="#0c2f5c" stroke-width="1.1"/>
<line x1="375.75" y1="967.60" x2="375.75" y2="971.10" stroke="#000" stroke-width="1.8"/>
<path d="M390.10,967.60V922.00H401.10V967.60" fill="#fff" stroke="#ff8300" stroke-width="2.0"/>
<line x1="395.60" y1="967.60" x2="395.60" y2="971.10" stroke="#000" stroke-width="1.8"/>
<path d="M409.95,967.60V897.70H420.95V967.60" fill="#fff" stroke="#9c0508" stroke-width="2.0"/>
<line x1="415.45" y1="896.70" x2="415.45" y2="890.80" stroke="#9c0508" stroke-width="1.1"/>
<line x1="412.95" y1="890.80" x2="417.95" y2="890.80" stroke="#9c0508" stroke-width="1.1"/>
<line x1="415.45" y1="967.60" x2="415.45" y2="971.10" stroke="#000" stroke-width="1.8"/>
<rect x="353.70" y="875.40" width="4.40" height="4.40" fill="#000" stroke="none" stroke-width="0"/>
<rect x="348.40" y="891.60" width="4.40" height="4.40" fill="#000" stroke="none" stroke-width="0"/>
<rect x="359.00" y="889.70" width="4.40" height="4.40" fill="#000" stroke="none" stroke-width="0"/>
<polygon points="370.90,864.88 368.48,869.28 373.32,869.28" fill="#000"/>
<polygon points="376.00,858.58 373.58,862.98 378.42,862.98" fill="#000"/>
<polygon points="380.40,862.08 377.98,866.48 382.82,866.48" fill="#000"/>
<polygon points="390.70,916.26 388.06,918.90 390.70,921.54 393.34,918.90" fill="#000"/>
<polygon points="395.30,921.46 392.66,924.10 395.30,926.74 397.94,924.10" fill="#000"/>
<polygon points="400.30,917.36 397.66,920.00 400.30,922.64 402.94,920.00" fill="#000"/>
<polygon points="415.30,893.22 412.88,888.82 417.72,888.82" fill="#000"/>
<polygon points="410.40,902.72 407.98,898.32 412.82,898.32" fill="#000"/>
<polygon points="419.90,899.92 417.48,895.52 422.32,895.52" fill="#000"/>
<line x1="354.60" y1="836.40" x2="415.60" y2="836.40" stroke="#1a1a1a" stroke-width="1.2"/>
<line x1="354.60" y1="836.40" x2="354.60" y2="871.30" stroke="#1a1a1a" stroke-width="1.2"/>
<line x1="376.00" y1="836.40" x2="376.00" y2="853.00" stroke="#1a1a1a" stroke-width="1.2"/>
<line x1="394.20" y1="836.40" x2="394.20" y2="900.60" stroke="#1a1a1a" stroke-width="1.2"/>
<line x1="415.60" y1="836.40" x2="415.60" y2="872.90" stroke="#1a1a1a" stroke-width="1.2"/>
<path d="M371.40,839.50L371.40,844.50M369.23,840.75L373.57,843.25M373.57,840.75L369.23,843.25" stroke="#111" stroke-width="1.15" fill="none"/>
<path d="M371.40,849.80L371.40,854.80M369.23,851.05L373.57,853.55M373.57,851.05L369.23,853.55" stroke="#111" stroke-width="1.15" fill="none"/>
<path d="M390.60,839.50L390.60,844.50M388.43,840.75L392.77,843.25M392.77,840.75L388.43,843.25" stroke="#111" stroke-width="1.15" fill="none"/>
<path d="M390.60,849.80L390.60,854.80M388.43,851.05L392.77,853.55M392.77,851.05L388.43,853.55" stroke="#111" stroke-width="1.15" fill="none"/>
<path d="M408.80,839.50L408.80,844.50M406.63,840.75L410.97,843.25M410.97,840.75L406.63,843.25" stroke="#111" stroke-width="1.15" fill="none"/>
<path d="M408.80,849.80L408.80,854.80M406.63,851.05L410.97,853.55M410.97,851.05L406.63,853.55" stroke="#111" stroke-width="1.15" fill="none"/>
<text x="360.60" y="833.40" font-size="14.6" fill="#636363" textLength="51.6" lengthAdjust="spacingAndGlyphs">PC3-OE</text>
<text x="336.50" y="989.50" font-size="14.3" fill="#636363" text-anchor="end" textLength="61.9" lengthAdjust="spacingAndGlyphs">TRIB3 OE</text>
<text x="337.00" y="1008.20" font-size="14.3" fill="#636363" text-anchor="end" textLength="65.5" lengthAdjust="spacingAndGlyphs">Palbociclib</text>
<line x1="354.10" y1="985.90" x2="358.10" y2="985.90" stroke="#555555" stroke-width="1.9"/>
<line x1="372.10" y1="985.40" x2="378.90" y2="985.40" stroke="#555555" stroke-width="1.8"/>
<line x1="375.50" y1="982.10" x2="375.50" y2="988.70" stroke="#555555" stroke-width="1.8"/>
<line x1="393.30" y1="985.90" x2="397.30" y2="985.90" stroke="#555555" stroke-width="1.9"/>
<line x1="411.50" y1="985.40" x2="418.30" y2="985.40" stroke="#555555" stroke-width="1.8"/>
<line x1="414.90" y1="982.10" x2="414.90" y2="988.70" stroke="#555555" stroke-width="1.8"/>
<line x1="354.10" y1="1004.60" x2="358.10" y2="1004.60" stroke="#555555" stroke-width="1.9"/>
<line x1="373.50" y1="1004.60" x2="377.50" y2="1004.60" stroke="#555555" stroke-width="1.9"/>
<line x1="391.90" y1="1004.10" x2="398.70" y2="1004.10" stroke="#555555" stroke-width="1.8"/>
<line x1="395.30" y1="1000.80" x2="395.30" y2="1007.40" stroke="#555555" stroke-width="1.8"/>
<line x1="411.50" y1="1004.10" x2="418.30" y2="1004.10" stroke="#555555" stroke-width="1.8"/>
<line x1="414.90" y1="1000.80" x2="414.90" y2="1007.40" stroke="#555555" stroke-width="1.8"/>
<text transform="translate(2.00,18.20) scale(1,1.075)" x="0" y="0" font-size="24" fill="#000">A</text>
<text transform="translate(347.80,18.60) scale(1,1.075)" x="0" y="0" font-size="24" fill="#000">B</text>
<text transform="translate(0.00,244.20) scale(1,1.075)" x="0" y="0" font-size="24" fill="#000">C</text>
<text transform="translate(172.20,244.40) scale(1,1.075)" x="0" y="0" font-size="24" fill="#000">D</text>
<text transform="translate(348.00,244.30) scale(1,1.075)" x="0" y="0" font-size="24" fill="#000">E</text>
<text transform="translate(516.00,244.60) scale(1,1.075)" x="0" y="0" font-size="24" fill="#000">F</text>
<text transform="translate(0.30,411.00) scale(1,1.075)" x="0" y="0" font-size="24" fill="#000">G</text>
<text transform="translate(347.00,410.60) scale(1,1.075)" x="0" y="0" font-size="24" fill="#000">H</text>
<text transform="translate(0.30,647.80) scale(1,1.075)" x="0" y="0" font-size="24" fill="#000">I</text>
<text transform="translate(0.00,826.00) scale(1,1.075)" x="0" y="0" font-size="24" fill="#000">J</text>
<text transform="translate(283.00,648.20) scale(1,1.075)" x="0" y="0" font-size="24" fill="#000">K</text>
<text transform="translate(284.80,842.10) scale(1,1.075)" x="0" y="0" font-size="24" fill="#000">L</text>
<text transform="translate(457.30,646.60) scale(1,1.075)" x="0" y="0" font-size="24" fill="#000">M</text>
<text transform="translate(457.20,825.60) scale(1,1.075)" x="0" y="0" font-size="24" fill="#000">N</text>
</svg></body></html>
